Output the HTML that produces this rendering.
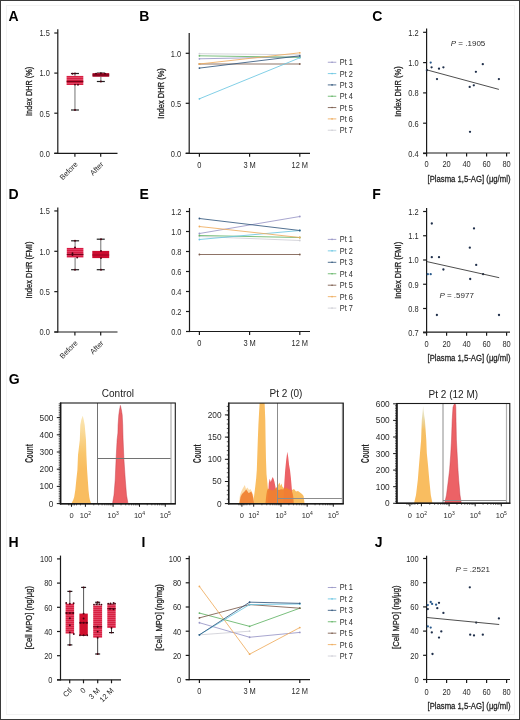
<!DOCTYPE html>
<html><head><meta charset="utf-8"><style>
html,body{margin:0;padding:0;background:#fff;}
svg{display:block;font-family:"Liberation Sans", sans-serif;will-change:transform;}
</style></head><body>
<svg width="520" height="720" viewBox="0 0 520 720">
<rect width="520" height="720" fill="#fff"/>
<rect x="6.5" y="5.5" width="508" height="709" fill="none" stroke="#f3f3f3" stroke-width="1"/>
<rect x="0.5" y="0.5" width="519" height="719" fill="none" stroke="#3a3a3a" stroke-width="1"/>
<text x="8.40" y="20.50" font-size="14" text-anchor="start" fill="#000" font-weight="bold" >A</text>
<line x1="57.80" y1="29.20" x2="57.80" y2="153.90" stroke="#1a1a1a" stroke-width="1.2" />
<line x1="54.30" y1="153.30" x2="57.80" y2="153.30" stroke="#1a1a1a" stroke-width="1.2" />
<text x="49.80" y="156.60" font-size="8.2" text-anchor="end" fill="#2a2a2a" font-weight="normal"  textLength="10.37" lengthAdjust="spacingAndGlyphs">0.0</text>
<line x1="54.30" y1="113.20" x2="57.80" y2="113.20" stroke="#1a1a1a" stroke-width="1.2" />
<text x="49.80" y="116.50" font-size="8.2" text-anchor="end" fill="#2a2a2a" font-weight="normal"  textLength="10.37" lengthAdjust="spacingAndGlyphs">0.5</text>
<line x1="54.30" y1="73.10" x2="57.80" y2="73.10" stroke="#1a1a1a" stroke-width="1.2" />
<text x="49.80" y="76.40" font-size="8.2" text-anchor="end" fill="#2a2a2a" font-weight="normal"  textLength="10.37" lengthAdjust="spacingAndGlyphs">1.0</text>
<line x1="54.30" y1="33.00" x2="57.80" y2="33.00" stroke="#1a1a1a" stroke-width="1.2" />
<text x="49.80" y="36.30" font-size="8.2" text-anchor="end" fill="#2a2a2a" font-weight="normal"  textLength="10.37" lengthAdjust="spacingAndGlyphs">1.5</text>
<line x1="54.30" y1="153.30" x2="117.50" y2="153.30" stroke="#1a1a1a" stroke-width="1.2" />
<line x1="74.90" y1="153.30" x2="74.90" y2="156.80" stroke="#1a1a1a" stroke-width="1.2" />
<line x1="100.70" y1="153.30" x2="100.70" y2="156.80" stroke="#1a1a1a" stroke-width="1.2" />
<text x="78.30" y="164.80" font-size="7.5" text-anchor="end" fill="#2a2a2a" font-weight="normal" transform="rotate(-45 78.30 164.80)" >Before</text>
<text x="104.10" y="164.80" font-size="7.5" text-anchor="end" fill="#2a2a2a" font-weight="normal" transform="rotate(-45 104.10 164.80)" >After</text>
<text x="32.40" y="91.40" font-size="9.5" text-anchor="middle" fill="#222" font-weight="normal" transform="rotate(-90 32.40 91.40)" textLength="49" lengthAdjust="spacingAndGlyphs"  stroke="#222" stroke-width="0.28">Index DHR (%)</text>
<defs><pattern id="st1" width="4" height="2" patternUnits="userSpaceOnUse"><rect width="4" height="2" fill="#d81a42"/><rect y="1.1" width="4" height="0.8" fill="#e6456a"/></pattern><pattern id="st2" width="4" height="2" patternUnits="userSpaceOnUse"><rect width="4" height="2" fill="#d82042"/><rect y="1.1" width="4" height="0.8" fill="#e4506e"/></pattern></defs>
<line x1="74.95" y1="73.50" x2="74.95" y2="75.90" stroke="#8a8a8a" stroke-width="1.2" />
<line x1="74.95" y1="85.00" x2="74.95" y2="110.00" stroke="#8a8a8a" stroke-width="1.2" />
<line x1="70.95" y1="73.50" x2="78.95" y2="73.50" stroke="#222" stroke-width="1.2" />
<line x1="70.95" y1="110.00" x2="78.95" y2="110.00" stroke="#222" stroke-width="1.2" />
<rect x="66.60" y="75.90" width="16.70" height="9.10" fill="url(#st2)" />
<line x1="66.60" y1="81.50" x2="83.30" y2="81.50" stroke="#7a0018" stroke-width="1.3" />
<circle cx="75.00" cy="73.50" r="0.95" fill="#4a0010"/>
<circle cx="72.50" cy="73.70" r="0.95" fill="#4a0010"/>
<circle cx="75.00" cy="84.60" r="0.95" fill="#4a0010"/>
<circle cx="75.00" cy="110.00" r="0.95" fill="#4a0010"/>
<circle cx="78.00" cy="84.80" r="0.95" fill="#4a0010"/>
<line x1="100.85" y1="73.10" x2="100.85" y2="73.10" stroke="#8a8a8a" stroke-width="1.2" />
<line x1="100.85" y1="76.80" x2="100.85" y2="81.50" stroke="#8a8a8a" stroke-width="1.2" />
<line x1="96.85" y1="73.10" x2="104.85" y2="73.10" stroke="#222" stroke-width="1.2" />
<line x1="96.85" y1="81.50" x2="104.85" y2="81.50" stroke="#222" stroke-width="1.2" />
<rect x="92.50" y="73.10" width="16.70" height="3.70" fill="#a8102e" />
<line x1="92.50" y1="75.00" x2="109.20" y2="75.00" stroke="#7a0018" stroke-width="1.3" />
<circle cx="96.00" cy="73.60" r="0.95" fill="#4a0010"/>
<circle cx="100.90" cy="73.30" r="0.95" fill="#4a0010"/>
<circle cx="105.00" cy="73.60" r="0.95" fill="#4a0010"/>
<circle cx="100.90" cy="81.50" r="0.95" fill="#4a0010"/>
<text x="8.40" y="199.00" font-size="14" text-anchor="start" fill="#000" font-weight="bold" >D</text>
<line x1="57.80" y1="207.50" x2="57.80" y2="332.60" stroke="#1a1a1a" stroke-width="1.2" />
<line x1="54.30" y1="332.00" x2="57.80" y2="332.00" stroke="#1a1a1a" stroke-width="1.2" />
<text x="49.80" y="335.30" font-size="8.2" text-anchor="end" fill="#2a2a2a" font-weight="normal"  textLength="10.37" lengthAdjust="spacingAndGlyphs">0.0</text>
<line x1="54.30" y1="291.65" x2="57.80" y2="291.65" stroke="#1a1a1a" stroke-width="1.2" />
<text x="49.80" y="294.95" font-size="8.2" text-anchor="end" fill="#2a2a2a" font-weight="normal"  textLength="10.37" lengthAdjust="spacingAndGlyphs">0.5</text>
<line x1="54.30" y1="251.30" x2="57.80" y2="251.30" stroke="#1a1a1a" stroke-width="1.2" />
<text x="49.80" y="254.60" font-size="8.2" text-anchor="end" fill="#2a2a2a" font-weight="normal"  textLength="10.37" lengthAdjust="spacingAndGlyphs">1.0</text>
<line x1="54.30" y1="210.95" x2="57.80" y2="210.95" stroke="#1a1a1a" stroke-width="1.2" />
<text x="49.80" y="214.25" font-size="8.2" text-anchor="end" fill="#2a2a2a" font-weight="normal"  textLength="10.37" lengthAdjust="spacingAndGlyphs">1.5</text>
<line x1="54.30" y1="332.00" x2="117.50" y2="332.00" stroke="#1a1a1a" stroke-width="1.2" />
<line x1="74.90" y1="332.00" x2="74.90" y2="335.50" stroke="#1a1a1a" stroke-width="1.2" />
<line x1="100.70" y1="332.00" x2="100.70" y2="335.50" stroke="#1a1a1a" stroke-width="1.2" />
<text x="78.30" y="343.50" font-size="7.5" text-anchor="end" fill="#2a2a2a" font-weight="normal" transform="rotate(-45 78.30 343.50)" >Before</text>
<text x="104.10" y="343.50" font-size="7.5" text-anchor="end" fill="#2a2a2a" font-weight="normal" transform="rotate(-45 104.10 343.50)" >After</text>
<text x="32.40" y="270.00" font-size="9.5" text-anchor="middle" fill="#222" font-weight="normal" transform="rotate(-90 32.40 270.00)" textLength="57" lengthAdjust="spacingAndGlyphs"  stroke="#222" stroke-width="0.28">Index DHR (FMI)</text>
<line x1="75.10" y1="240.80" x2="75.10" y2="247.90" stroke="#8a8a8a" stroke-width="1.2" />
<line x1="75.10" y1="257.50" x2="75.10" y2="269.70" stroke="#8a8a8a" stroke-width="1.2" />
<line x1="71.10" y1="240.80" x2="79.10" y2="240.80" stroke="#222" stroke-width="1.2" />
<line x1="71.10" y1="269.70" x2="79.10" y2="269.70" stroke="#222" stroke-width="1.2" />
<rect x="66.80" y="247.90" width="16.60" height="9.60" fill="url(#st1)" />
<line x1="66.80" y1="254.50" x2="83.40" y2="254.50" stroke="#7a0018" stroke-width="1.3" />
<circle cx="75.00" cy="240.80" r="0.95" fill="#4a0010"/>
<circle cx="75.00" cy="247.40" r="0.95" fill="#4a0010"/>
<circle cx="72.50" cy="253.30" r="0.95" fill="#4a0010"/>
<circle cx="72.50" cy="255.00" r="0.95" fill="#4a0010"/>
<circle cx="77.20" cy="257.60" r="0.95" fill="#4a0010"/>
<circle cx="75.00" cy="269.70" r="0.95" fill="#4a0010"/>
<line x1="100.75" y1="239.20" x2="100.75" y2="250.90" stroke="#8a8a8a" stroke-width="1.2" />
<line x1="100.75" y1="258.10" x2="100.75" y2="269.70" stroke="#8a8a8a" stroke-width="1.2" />
<line x1="96.75" y1="239.20" x2="104.75" y2="239.20" stroke="#222" stroke-width="1.2" />
<line x1="96.75" y1="269.70" x2="104.75" y2="269.70" stroke="#222" stroke-width="1.2" />
<rect x="92.30" y="250.90" width="16.90" height="7.20" fill="#cc0c30" />
<line x1="92.30" y1="255.00" x2="109.20" y2="255.00" stroke="#9a0020" stroke-width="1.0" />
<circle cx="101.00" cy="239.20" r="0.95" fill="#4a0010"/>
<circle cx="101.00" cy="250.90" r="0.95" fill="#4a0010"/>
<circle cx="101.00" cy="258.10" r="0.95" fill="#4a0010"/>
<circle cx="101.00" cy="269.70" r="0.95" fill="#4a0010"/>
<text x="139.20" y="20.50" font-size="14" text-anchor="start" fill="#000" font-weight="bold" >B</text>
<line x1="189.20" y1="33.00" x2="189.20" y2="153.90" stroke="#1a1a1a" stroke-width="1.2" />
<line x1="185.70" y1="153.30" x2="189.20" y2="153.30" stroke="#1a1a1a" stroke-width="1.2" />
<text x="181.20" y="156.60" font-size="8.2" text-anchor="end" fill="#2a2a2a" font-weight="normal"  textLength="10.37" lengthAdjust="spacingAndGlyphs">0.0</text>
<line x1="185.70" y1="103.30" x2="189.20" y2="103.30" stroke="#1a1a1a" stroke-width="1.2" />
<text x="181.20" y="106.60" font-size="8.2" text-anchor="end" fill="#2a2a2a" font-weight="normal"  textLength="10.37" lengthAdjust="spacingAndGlyphs">0.5</text>
<line x1="185.70" y1="53.30" x2="189.20" y2="53.30" stroke="#1a1a1a" stroke-width="1.2" />
<text x="181.20" y="56.60" font-size="8.2" text-anchor="end" fill="#2a2a2a" font-weight="normal"  textLength="10.37" lengthAdjust="spacingAndGlyphs">1.0</text>
<line x1="185.70" y1="153.30" x2="310.00" y2="153.30" stroke="#1a1a1a" stroke-width="1.2" />
<line x1="199.40" y1="153.30" x2="199.40" y2="156.80" stroke="#1a1a1a" stroke-width="1.2" />
<text x="199.40" y="168.00" font-size="8.2" text-anchor="middle" fill="#2a2a2a" font-weight="normal"  textLength="4.15" lengthAdjust="spacingAndGlyphs">0</text>
<line x1="249.60" y1="153.30" x2="249.60" y2="156.80" stroke="#1a1a1a" stroke-width="1.2" />
<text x="249.60" y="168.00" font-size="8.2" text-anchor="middle" fill="#2a2a2a" font-weight="normal"  textLength="12.44" lengthAdjust="spacingAndGlyphs">3 M</text>
<line x1="299.80" y1="153.30" x2="299.80" y2="156.80" stroke="#1a1a1a" stroke-width="1.2" />
<text x="299.80" y="168.00" font-size="8.2" text-anchor="middle" fill="#2a2a2a" font-weight="normal"  textLength="16.59" lengthAdjust="spacingAndGlyphs">12 M</text>
<text x="163.60" y="93.40" font-size="9.5" text-anchor="middle" fill="#222" font-weight="normal" transform="rotate(-90 163.60 93.40)" textLength="50.5" lengthAdjust="spacingAndGlyphs"  stroke="#222" stroke-width="0.28">Index DHR (%)</text>
<line x1="199.40" y1="53.70" x2="299.80" y2="54.80" stroke="#cfcfd6" stroke-width="0.85" />
<circle cx="199.40" cy="53.70" r="0.9" fill="#cfcfd6"/>
<circle cx="299.80" cy="54.80" r="0.9" fill="#cfcfd6"/>
<line x1="199.40" y1="58.80" x2="299.80" y2="56.80" stroke="#9896c6" stroke-width="0.85" />
<circle cx="199.40" cy="58.80" r="0.9" fill="#9896c6"/>
<circle cx="299.80" cy="56.80" r="0.9" fill="#9896c6"/>
<line x1="199.40" y1="55.80" x2="299.80" y2="57.30" stroke="#62b466" stroke-width="0.85" />
<circle cx="199.40" cy="55.80" r="0.9" fill="#62b466"/>
<circle cx="299.80" cy="57.30" r="0.9" fill="#62b466"/>
<line x1="199.40" y1="64.00" x2="299.80" y2="64.00" stroke="#7a5a4a" stroke-width="0.85" />
<circle cx="199.40" cy="64.00" r="0.9" fill="#7a5a4a"/>
<circle cx="299.80" cy="64.00" r="0.9" fill="#7a5a4a"/>
<line x1="199.40" y1="64.00" x2="299.80" y2="52.80" stroke="#eeac5e" stroke-width="0.85" />
<circle cx="199.40" cy="64.00" r="0.9" fill="#eeac5e"/>
<circle cx="299.80" cy="52.80" r="0.9" fill="#eeac5e"/>
<line x1="199.40" y1="68.10" x2="299.80" y2="55.80" stroke="#34587e" stroke-width="0.85" />
<circle cx="199.40" cy="68.10" r="0.9" fill="#34587e"/>
<circle cx="299.80" cy="55.80" r="0.9" fill="#34587e"/>
<line x1="199.40" y1="98.80" x2="299.80" y2="57.80" stroke="#6cc6e2" stroke-width="0.85" />
<circle cx="199.40" cy="98.80" r="0.9" fill="#6cc6e2"/>
<circle cx="299.80" cy="57.80" r="0.9" fill="#6cc6e2"/>
<line x1="327.80" y1="62.25" x2="336.30" y2="62.25" stroke="#9896c6" stroke-width="0.85" />
<circle cx="332.05" cy="62.25" r="0.8" fill="#9896c6"/>
<text x="339.80" y="65.20" font-size="8.2" text-anchor="start" fill="#2a2a2a" font-weight="normal"  textLength="13.13" lengthAdjust="spacingAndGlyphs">Pt 1</text>
<line x1="327.80" y1="73.58" x2="336.30" y2="73.58" stroke="#6cc6e2" stroke-width="0.85" />
<circle cx="332.05" cy="73.58" r="0.8" fill="#6cc6e2"/>
<text x="339.80" y="76.53" font-size="8.2" text-anchor="start" fill="#2a2a2a" font-weight="normal"  textLength="13.13" lengthAdjust="spacingAndGlyphs">Pt 2</text>
<line x1="327.80" y1="84.91" x2="336.30" y2="84.91" stroke="#34587e" stroke-width="0.85" />
<circle cx="332.05" cy="84.91" r="0.8" fill="#34587e"/>
<text x="339.80" y="87.86" font-size="8.2" text-anchor="start" fill="#2a2a2a" font-weight="normal"  textLength="13.13" lengthAdjust="spacingAndGlyphs">Pt 3</text>
<line x1="327.80" y1="96.24" x2="336.30" y2="96.24" stroke="#62b466" stroke-width="0.85" />
<circle cx="332.05" cy="96.24" r="0.8" fill="#62b466"/>
<text x="339.80" y="99.19" font-size="8.2" text-anchor="start" fill="#2a2a2a" font-weight="normal"  textLength="13.13" lengthAdjust="spacingAndGlyphs">Pt 4</text>
<line x1="327.80" y1="107.57" x2="336.30" y2="107.57" stroke="#7a5a4a" stroke-width="0.85" />
<circle cx="332.05" cy="107.57" r="0.8" fill="#7a5a4a"/>
<text x="339.80" y="110.52" font-size="8.2" text-anchor="start" fill="#2a2a2a" font-weight="normal"  textLength="13.13" lengthAdjust="spacingAndGlyphs">Pt 5</text>
<line x1="327.80" y1="118.90" x2="336.30" y2="118.90" stroke="#eeac5e" stroke-width="0.85" />
<circle cx="332.05" cy="118.90" r="0.8" fill="#eeac5e"/>
<text x="339.80" y="121.85" font-size="8.2" text-anchor="start" fill="#2a2a2a" font-weight="normal"  textLength="13.13" lengthAdjust="spacingAndGlyphs">Pt 6</text>
<line x1="327.80" y1="130.23" x2="336.30" y2="130.23" stroke="#cfcfd6" stroke-width="0.85" />
<circle cx="332.05" cy="130.23" r="0.8" fill="#cfcfd6"/>
<text x="339.80" y="133.18" font-size="8.2" text-anchor="start" fill="#2a2a2a" font-weight="normal"  textLength="13.13" lengthAdjust="spacingAndGlyphs">Pt 7</text>
<text x="139.40" y="199.00" font-size="14" text-anchor="start" fill="#000" font-weight="bold" >E</text>
<line x1="189.50" y1="208.00" x2="189.50" y2="332.10" stroke="#1a1a1a" stroke-width="1.2" />
<line x1="186.00" y1="331.50" x2="189.50" y2="331.50" stroke="#1a1a1a" stroke-width="1.2" />
<text x="181.50" y="334.80" font-size="8.2" text-anchor="end" fill="#2a2a2a" font-weight="normal"  textLength="10.37" lengthAdjust="spacingAndGlyphs">0.0</text>
<line x1="186.00" y1="311.50" x2="189.50" y2="311.50" stroke="#1a1a1a" stroke-width="1.2" />
<text x="181.50" y="314.80" font-size="8.2" text-anchor="end" fill="#2a2a2a" font-weight="normal"  textLength="10.37" lengthAdjust="spacingAndGlyphs">0.2</text>
<line x1="186.00" y1="291.50" x2="189.50" y2="291.50" stroke="#1a1a1a" stroke-width="1.2" />
<text x="181.50" y="294.80" font-size="8.2" text-anchor="end" fill="#2a2a2a" font-weight="normal"  textLength="10.37" lengthAdjust="spacingAndGlyphs">0.4</text>
<line x1="186.00" y1="271.50" x2="189.50" y2="271.50" stroke="#1a1a1a" stroke-width="1.2" />
<text x="181.50" y="274.80" font-size="8.2" text-anchor="end" fill="#2a2a2a" font-weight="normal"  textLength="10.37" lengthAdjust="spacingAndGlyphs">0.6</text>
<line x1="186.00" y1="251.50" x2="189.50" y2="251.50" stroke="#1a1a1a" stroke-width="1.2" />
<text x="181.50" y="254.80" font-size="8.2" text-anchor="end" fill="#2a2a2a" font-weight="normal"  textLength="10.37" lengthAdjust="spacingAndGlyphs">0.8</text>
<line x1="186.00" y1="231.50" x2="189.50" y2="231.50" stroke="#1a1a1a" stroke-width="1.2" />
<text x="181.50" y="234.80" font-size="8.2" text-anchor="end" fill="#2a2a2a" font-weight="normal"  textLength="10.37" lengthAdjust="spacingAndGlyphs">1.0</text>
<line x1="186.00" y1="211.50" x2="189.50" y2="211.50" stroke="#1a1a1a" stroke-width="1.2" />
<text x="181.50" y="214.80" font-size="8.2" text-anchor="end" fill="#2a2a2a" font-weight="normal"  textLength="10.37" lengthAdjust="spacingAndGlyphs">1.2</text>
<line x1="186.00" y1="331.50" x2="310.00" y2="331.50" stroke="#1a1a1a" stroke-width="1.2" />
<line x1="199.40" y1="331.50" x2="199.40" y2="335.00" stroke="#1a1a1a" stroke-width="1.2" />
<text x="199.40" y="346.20" font-size="8.2" text-anchor="middle" fill="#2a2a2a" font-weight="normal"  textLength="4.15" lengthAdjust="spacingAndGlyphs">0</text>
<line x1="249.60" y1="331.50" x2="249.60" y2="335.00" stroke="#1a1a1a" stroke-width="1.2" />
<text x="249.60" y="346.20" font-size="8.2" text-anchor="middle" fill="#2a2a2a" font-weight="normal"  textLength="12.44" lengthAdjust="spacingAndGlyphs">3 M</text>
<line x1="299.80" y1="331.50" x2="299.80" y2="335.00" stroke="#1a1a1a" stroke-width="1.2" />
<text x="299.80" y="346.20" font-size="8.2" text-anchor="middle" fill="#2a2a2a" font-weight="normal"  textLength="16.59" lengthAdjust="spacingAndGlyphs">12 M</text>
<text x="163.60" y="270.00" font-size="9.5" text-anchor="start" fill="#2a2a2a" font-weight="normal" ></text>
<line x1="199.40" y1="236.50" x2="299.80" y2="240.50" stroke="#cfcfd6" stroke-width="0.85" />
<circle cx="199.40" cy="236.50" r="0.9" fill="#cfcfd6"/>
<circle cx="299.80" cy="240.50" r="0.9" fill="#cfcfd6"/>
<line x1="199.40" y1="254.50" x2="299.80" y2="254.50" stroke="#7a5a4a" stroke-width="0.85" />
<circle cx="199.40" cy="254.50" r="0.9" fill="#7a5a4a"/>
<circle cx="299.80" cy="254.50" r="0.9" fill="#7a5a4a"/>
<line x1="199.40" y1="235.50" x2="299.80" y2="237.50" stroke="#62b466" stroke-width="0.85" />
<circle cx="199.40" cy="235.50" r="0.9" fill="#62b466"/>
<circle cx="299.80" cy="237.50" r="0.9" fill="#62b466"/>
<line x1="199.40" y1="239.50" x2="299.80" y2="230.50" stroke="#6cc6e2" stroke-width="0.85" />
<circle cx="199.40" cy="239.50" r="0.9" fill="#6cc6e2"/>
<circle cx="299.80" cy="230.50" r="0.9" fill="#6cc6e2"/>
<line x1="199.40" y1="233.50" x2="299.80" y2="216.50" stroke="#9896c6" stroke-width="0.85" />
<circle cx="199.40" cy="233.50" r="0.9" fill="#9896c6"/>
<circle cx="299.80" cy="216.50" r="0.9" fill="#9896c6"/>
<line x1="199.40" y1="226.50" x2="299.80" y2="237.50" stroke="#eeac5e" stroke-width="0.85" />
<circle cx="199.40" cy="226.50" r="0.9" fill="#eeac5e"/>
<circle cx="299.80" cy="237.50" r="0.9" fill="#eeac5e"/>
<line x1="199.40" y1="218.50" x2="299.80" y2="230.50" stroke="#34587e" stroke-width="0.85" />
<circle cx="199.40" cy="218.50" r="0.9" fill="#34587e"/>
<circle cx="299.80" cy="230.50" r="0.9" fill="#34587e"/>
<line x1="327.80" y1="239.40" x2="336.30" y2="239.40" stroke="#9896c6" stroke-width="0.85" />
<circle cx="332.05" cy="239.40" r="0.8" fill="#9896c6"/>
<text x="339.80" y="242.35" font-size="8.2" text-anchor="start" fill="#2a2a2a" font-weight="normal"  textLength="13.13" lengthAdjust="spacingAndGlyphs">Pt 1</text>
<line x1="327.80" y1="250.85" x2="336.30" y2="250.85" stroke="#6cc6e2" stroke-width="0.85" />
<circle cx="332.05" cy="250.85" r="0.8" fill="#6cc6e2"/>
<text x="339.80" y="253.80" font-size="8.2" text-anchor="start" fill="#2a2a2a" font-weight="normal"  textLength="13.13" lengthAdjust="spacingAndGlyphs">Pt 2</text>
<line x1="327.80" y1="262.30" x2="336.30" y2="262.30" stroke="#34587e" stroke-width="0.85" />
<circle cx="332.05" cy="262.30" r="0.8" fill="#34587e"/>
<text x="339.80" y="265.25" font-size="8.2" text-anchor="start" fill="#2a2a2a" font-weight="normal"  textLength="13.13" lengthAdjust="spacingAndGlyphs">Pt 3</text>
<line x1="327.80" y1="273.75" x2="336.30" y2="273.75" stroke="#62b466" stroke-width="0.85" />
<circle cx="332.05" cy="273.75" r="0.8" fill="#62b466"/>
<text x="339.80" y="276.70" font-size="8.2" text-anchor="start" fill="#2a2a2a" font-weight="normal"  textLength="13.13" lengthAdjust="spacingAndGlyphs">Pt 4</text>
<line x1="327.80" y1="285.20" x2="336.30" y2="285.20" stroke="#7a5a4a" stroke-width="0.85" />
<circle cx="332.05" cy="285.20" r="0.8" fill="#7a5a4a"/>
<text x="339.80" y="288.15" font-size="8.2" text-anchor="start" fill="#2a2a2a" font-weight="normal"  textLength="13.13" lengthAdjust="spacingAndGlyphs">Pt 5</text>
<line x1="327.80" y1="296.65" x2="336.30" y2="296.65" stroke="#eeac5e" stroke-width="0.85" />
<circle cx="332.05" cy="296.65" r="0.8" fill="#eeac5e"/>
<text x="339.80" y="299.60" font-size="8.2" text-anchor="start" fill="#2a2a2a" font-weight="normal"  textLength="13.13" lengthAdjust="spacingAndGlyphs">Pt 6</text>
<line x1="327.80" y1="308.10" x2="336.30" y2="308.10" stroke="#cfcfd6" stroke-width="0.85" />
<circle cx="332.05" cy="308.10" r="0.8" fill="#cfcfd6"/>
<text x="339.80" y="311.05" font-size="8.2" text-anchor="start" fill="#2a2a2a" font-weight="normal"  textLength="13.13" lengthAdjust="spacingAndGlyphs">Pt 7</text>
<text x="141.40" y="546.70" font-size="14" text-anchor="start" fill="#000" font-weight="bold" >I</text>
<line x1="189.20" y1="555.80" x2="189.20" y2="680.20" stroke="#1a1a1a" stroke-width="1.2" />
<line x1="185.70" y1="679.60" x2="189.20" y2="679.60" stroke="#1a1a1a" stroke-width="1.2" />
<text x="181.20" y="682.90" font-size="8.2" text-anchor="end" fill="#2a2a2a" font-weight="normal"  textLength="4.15" lengthAdjust="spacingAndGlyphs">0</text>
<line x1="185.70" y1="655.40" x2="189.20" y2="655.40" stroke="#1a1a1a" stroke-width="1.2" />
<text x="181.20" y="658.70" font-size="8.2" text-anchor="end" fill="#2a2a2a" font-weight="normal"  textLength="8.30" lengthAdjust="spacingAndGlyphs">20</text>
<line x1="185.70" y1="631.20" x2="189.20" y2="631.20" stroke="#1a1a1a" stroke-width="1.2" />
<text x="181.20" y="634.50" font-size="8.2" text-anchor="end" fill="#2a2a2a" font-weight="normal"  textLength="8.30" lengthAdjust="spacingAndGlyphs">40</text>
<line x1="185.70" y1="607.00" x2="189.20" y2="607.00" stroke="#1a1a1a" stroke-width="1.2" />
<text x="181.20" y="610.30" font-size="8.2" text-anchor="end" fill="#2a2a2a" font-weight="normal"  textLength="8.30" lengthAdjust="spacingAndGlyphs">60</text>
<line x1="185.70" y1="582.80" x2="189.20" y2="582.80" stroke="#1a1a1a" stroke-width="1.2" />
<text x="181.20" y="586.10" font-size="8.2" text-anchor="end" fill="#2a2a2a" font-weight="normal"  textLength="8.30" lengthAdjust="spacingAndGlyphs">80</text>
<line x1="185.70" y1="558.60" x2="189.20" y2="558.60" stroke="#1a1a1a" stroke-width="1.2" />
<text x="181.20" y="561.90" font-size="8.2" text-anchor="end" fill="#2a2a2a" font-weight="normal"  textLength="12.45" lengthAdjust="spacingAndGlyphs">100</text>
<line x1="185.70" y1="679.60" x2="310.00" y2="679.60" stroke="#1a1a1a" stroke-width="1.2" />
<line x1="199.40" y1="679.60" x2="199.40" y2="683.10" stroke="#1a1a1a" stroke-width="1.2" />
<text x="199.40" y="694.30" font-size="8.2" text-anchor="middle" fill="#2a2a2a" font-weight="normal"  textLength="4.15" lengthAdjust="spacingAndGlyphs">0</text>
<line x1="249.60" y1="679.60" x2="249.60" y2="683.10" stroke="#1a1a1a" stroke-width="1.2" />
<text x="249.60" y="694.30" font-size="8.2" text-anchor="middle" fill="#2a2a2a" font-weight="normal"  textLength="12.44" lengthAdjust="spacingAndGlyphs">3 M</text>
<line x1="299.80" y1="679.60" x2="299.80" y2="683.10" stroke="#1a1a1a" stroke-width="1.2" />
<text x="299.80" y="694.30" font-size="8.2" text-anchor="middle" fill="#2a2a2a" font-weight="normal"  textLength="16.59" lengthAdjust="spacingAndGlyphs">12 M</text>
<text x="161.60" y="617.50" font-size="9.5" text-anchor="middle" fill="#222" font-weight="normal" transform="rotate(-90 161.60 617.50)" textLength="66.5" lengthAdjust="spacingAndGlyphs"  stroke="#222" stroke-width="0.28">[Cell. MPO] (ng/mg)</text>
<polyline points="199.40,634.83 249.60,631.20" fill="none" stroke="#cfcfd6" stroke-width="0.85" />
<circle cx="199.40" cy="634.83" r="0.9" fill="#cfcfd6"/>
<circle cx="249.60" cy="631.20" r="0.9" fill="#cfcfd6"/>
<polyline points="199.40,622.73 249.60,637.25 299.80,632.41" fill="none" stroke="#9896c6" stroke-width="0.85" />
<circle cx="199.40" cy="622.73" r="0.9" fill="#9896c6"/>
<circle cx="249.60" cy="637.25" r="0.9" fill="#9896c6"/>
<circle cx="299.80" cy="632.41" r="0.9" fill="#9896c6"/>
<polyline points="199.40,613.05 249.60,626.36 299.80,608.21" fill="none" stroke="#62b466" stroke-width="0.85" />
<circle cx="199.40" cy="613.05" r="0.9" fill="#62b466"/>
<circle cx="249.60" cy="626.36" r="0.9" fill="#62b466"/>
<circle cx="299.80" cy="608.21" r="0.9" fill="#62b466"/>
<polyline points="199.40,617.89 249.60,604.58 299.80,608.21" fill="none" stroke="#7a5a4a" stroke-width="0.85" />
<circle cx="199.40" cy="617.89" r="0.9" fill="#7a5a4a"/>
<circle cx="249.60" cy="604.58" r="0.9" fill="#7a5a4a"/>
<circle cx="299.80" cy="608.21" r="0.9" fill="#7a5a4a"/>
<polyline points="199.40,586.43 249.60,654.19 299.80,627.57" fill="none" stroke="#eeac5e" stroke-width="0.85" />
<circle cx="199.40" cy="586.43" r="0.9" fill="#eeac5e"/>
<circle cx="249.60" cy="654.19" r="0.9" fill="#eeac5e"/>
<circle cx="299.80" cy="627.57" r="0.9" fill="#eeac5e"/>
<polyline points="199.40,634.83 249.60,604.58 299.80,603.98" fill="none" stroke="#6cc6e2" stroke-width="0.85" />
<circle cx="199.40" cy="634.83" r="0.9" fill="#6cc6e2"/>
<circle cx="249.60" cy="604.58" r="0.9" fill="#6cc6e2"/>
<circle cx="299.80" cy="603.98" r="0.9" fill="#6cc6e2"/>
<polyline points="199.40,634.83 249.60,602.16 299.80,603.37" fill="none" stroke="#34587e" stroke-width="0.85" />
<circle cx="199.40" cy="634.83" r="0.9" fill="#34587e"/>
<circle cx="249.60" cy="602.16" r="0.9" fill="#34587e"/>
<circle cx="299.80" cy="603.37" r="0.9" fill="#34587e"/>
<line x1="327.80" y1="587.50" x2="336.30" y2="587.50" stroke="#9896c6" stroke-width="0.85" />
<circle cx="332.05" cy="587.50" r="0.8" fill="#9896c6"/>
<text x="339.80" y="590.45" font-size="8.2" text-anchor="start" fill="#2a2a2a" font-weight="normal"  textLength="13.13" lengthAdjust="spacingAndGlyphs">Pt 1</text>
<line x1="327.80" y1="598.92" x2="336.30" y2="598.92" stroke="#6cc6e2" stroke-width="0.85" />
<circle cx="332.05" cy="598.92" r="0.8" fill="#6cc6e2"/>
<text x="339.80" y="601.87" font-size="8.2" text-anchor="start" fill="#2a2a2a" font-weight="normal"  textLength="13.13" lengthAdjust="spacingAndGlyphs">Pt 2</text>
<line x1="327.80" y1="610.34" x2="336.30" y2="610.34" stroke="#34587e" stroke-width="0.85" />
<circle cx="332.05" cy="610.34" r="0.8" fill="#34587e"/>
<text x="339.80" y="613.29" font-size="8.2" text-anchor="start" fill="#2a2a2a" font-weight="normal"  textLength="13.13" lengthAdjust="spacingAndGlyphs">Pt 3</text>
<line x1="327.80" y1="621.76" x2="336.30" y2="621.76" stroke="#62b466" stroke-width="0.85" />
<circle cx="332.05" cy="621.76" r="0.8" fill="#62b466"/>
<text x="339.80" y="624.71" font-size="8.2" text-anchor="start" fill="#2a2a2a" font-weight="normal"  textLength="13.13" lengthAdjust="spacingAndGlyphs">Pt 4</text>
<line x1="327.80" y1="633.18" x2="336.30" y2="633.18" stroke="#7a5a4a" stroke-width="0.85" />
<circle cx="332.05" cy="633.18" r="0.8" fill="#7a5a4a"/>
<text x="339.80" y="636.13" font-size="8.2" text-anchor="start" fill="#2a2a2a" font-weight="normal"  textLength="13.13" lengthAdjust="spacingAndGlyphs">Pt 5</text>
<line x1="327.80" y1="644.60" x2="336.30" y2="644.60" stroke="#eeac5e" stroke-width="0.85" />
<circle cx="332.05" cy="644.60" r="0.8" fill="#eeac5e"/>
<text x="339.80" y="647.55" font-size="8.2" text-anchor="start" fill="#2a2a2a" font-weight="normal"  textLength="13.13" lengthAdjust="spacingAndGlyphs">Pt 6</text>
<line x1="327.80" y1="656.02" x2="336.30" y2="656.02" stroke="#cfcfd6" stroke-width="0.85" />
<circle cx="332.05" cy="656.02" r="0.8" fill="#cfcfd6"/>
<text x="339.80" y="658.97" font-size="8.2" text-anchor="start" fill="#2a2a2a" font-weight="normal"  textLength="13.13" lengthAdjust="spacingAndGlyphs">Pt 7</text>
<text x="372.30" y="20.90" font-size="14" text-anchor="start" fill="#000" font-weight="bold" >C</text>
<line x1="426.60" y1="28.50" x2="426.60" y2="153.60" stroke="#1a1a1a" stroke-width="1.2" />
<line x1="423.10" y1="153.50" x2="426.60" y2="153.50" stroke="#1a1a1a" stroke-width="1.2" />
<text x="418.60" y="156.80" font-size="8.2" text-anchor="end" fill="#2a2a2a" font-weight="normal"  textLength="10.37" lengthAdjust="spacingAndGlyphs">0.4</text>
<line x1="423.10" y1="123.20" x2="426.60" y2="123.20" stroke="#1a1a1a" stroke-width="1.2" />
<text x="418.60" y="126.50" font-size="8.2" text-anchor="end" fill="#2a2a2a" font-weight="normal"  textLength="10.37" lengthAdjust="spacingAndGlyphs">0.6</text>
<line x1="423.10" y1="92.90" x2="426.60" y2="92.90" stroke="#1a1a1a" stroke-width="1.2" />
<text x="418.60" y="96.20" font-size="8.2" text-anchor="end" fill="#2a2a2a" font-weight="normal"  textLength="10.37" lengthAdjust="spacingAndGlyphs">0.8</text>
<line x1="423.10" y1="62.60" x2="426.60" y2="62.60" stroke="#1a1a1a" stroke-width="1.2" />
<text x="418.60" y="65.90" font-size="8.2" text-anchor="end" fill="#2a2a2a" font-weight="normal"  textLength="10.37" lengthAdjust="spacingAndGlyphs">1.0</text>
<line x1="423.10" y1="32.30" x2="426.60" y2="32.30" stroke="#1a1a1a" stroke-width="1.2" />
<text x="418.60" y="35.60" font-size="8.2" text-anchor="end" fill="#2a2a2a" font-weight="normal"  textLength="10.37" lengthAdjust="spacingAndGlyphs">1.2</text>
<line x1="423.00" y1="153.00" x2="510.00" y2="153.00" stroke="#1a1a1a" stroke-width="1.2" />
<line x1="426.60" y1="153.00" x2="426.60" y2="156.50" stroke="#1a1a1a" stroke-width="1.2" />
<text x="426.60" y="167.40" font-size="8.2" text-anchor="middle" fill="#2a2a2a" font-weight="normal"  textLength="4.15" lengthAdjust="spacingAndGlyphs">0</text>
<line x1="446.60" y1="153.00" x2="446.60" y2="156.50" stroke="#1a1a1a" stroke-width="1.2" />
<text x="446.60" y="167.40" font-size="8.2" text-anchor="middle" fill="#2a2a2a" font-weight="normal"  textLength="8.30" lengthAdjust="spacingAndGlyphs">20</text>
<line x1="466.60" y1="153.00" x2="466.60" y2="156.50" stroke="#1a1a1a" stroke-width="1.2" />
<text x="466.60" y="167.40" font-size="8.2" text-anchor="middle" fill="#2a2a2a" font-weight="normal"  textLength="8.30" lengthAdjust="spacingAndGlyphs">40</text>
<line x1="486.60" y1="153.00" x2="486.60" y2="156.50" stroke="#1a1a1a" stroke-width="1.2" />
<text x="486.60" y="167.40" font-size="8.2" text-anchor="middle" fill="#2a2a2a" font-weight="normal"  textLength="8.30" lengthAdjust="spacingAndGlyphs">60</text>
<line x1="506.60" y1="153.00" x2="506.60" y2="156.50" stroke="#1a1a1a" stroke-width="1.2" />
<text x="506.60" y="167.40" font-size="8.2" text-anchor="middle" fill="#2a2a2a" font-weight="normal"  textLength="8.30" lengthAdjust="spacingAndGlyphs">80</text>
<text x="469.00" y="181.50" font-size="9.5" text-anchor="middle" fill="#222" font-weight="normal" textLength="83" lengthAdjust="spacingAndGlyphs"  stroke="#222" stroke-width="0.28">[Plasma 1,5-AG] (μg/ml)</text>
<text x="401.30" y="91.60" font-size="9.5" text-anchor="middle" fill="#222" font-weight="normal" transform="rotate(-90 401.30 91.60)" textLength="50.5" lengthAdjust="spacingAndGlyphs"  stroke="#222" stroke-width="0.28">Index DHR (%)</text>
<circle cx="430.70" cy="62.60" r="1.15" fill="#2a5a8c"/>
<circle cx="431.60" cy="67.30" r="1.15" fill="#1f2f4a"/>
<circle cx="426.90" cy="70.20" r="1.15" fill="#1f2f4a"/>
<circle cx="437.00" cy="79.10" r="1.15" fill="#1f2f4a"/>
<circle cx="439.00" cy="68.70" r="1.15" fill="#1f2f4a"/>
<circle cx="443.40" cy="67.30" r="1.15" fill="#1f2f4a"/>
<circle cx="469.70" cy="86.90" r="1.15" fill="#1f2f4a"/>
<circle cx="473.80" cy="85.30" r="1.15" fill="#1f2f4a"/>
<circle cx="475.90" cy="71.80" r="1.15" fill="#1f2f4a"/>
<circle cx="482.80" cy="64.20" r="1.15" fill="#1f2f4a"/>
<circle cx="498.90" cy="79.10" r="1.15" fill="#1f2f4a"/>
<circle cx="470.00" cy="131.80" r="1.15" fill="#1f2f4a"/>
<line x1="426.90" y1="69.90" x2="498.90" y2="89.40" stroke="#3a3a3a" stroke-width="0.9" />
<text x="450.80" y="45.80" font-size="8" text-anchor="start" fill="#2a2a2a" font-weight="normal" ><tspan font-style="italic">P</tspan> = .1905</text>
<text x="372.30" y="199.00" font-size="14" text-anchor="start" fill="#000" font-weight="bold" >F</text>
<line x1="426.60" y1="208.10" x2="426.60" y2="332.80" stroke="#1a1a1a" stroke-width="1.2" />
<line x1="423.10" y1="332.75" x2="426.60" y2="332.75" stroke="#1a1a1a" stroke-width="1.2" />
<text x="418.60" y="336.05" font-size="8.2" text-anchor="end" fill="#2a2a2a" font-weight="normal"  textLength="10.37" lengthAdjust="spacingAndGlyphs">0.7</text>
<line x1="423.10" y1="308.50" x2="426.60" y2="308.50" stroke="#1a1a1a" stroke-width="1.2" />
<text x="418.60" y="311.80" font-size="8.2" text-anchor="end" fill="#2a2a2a" font-weight="normal"  textLength="10.37" lengthAdjust="spacingAndGlyphs">0.8</text>
<line x1="423.10" y1="284.25" x2="426.60" y2="284.25" stroke="#1a1a1a" stroke-width="1.2" />
<text x="418.60" y="287.55" font-size="8.2" text-anchor="end" fill="#2a2a2a" font-weight="normal"  textLength="10.37" lengthAdjust="spacingAndGlyphs">0.9</text>
<line x1="423.10" y1="260.00" x2="426.60" y2="260.00" stroke="#1a1a1a" stroke-width="1.2" />
<text x="418.60" y="263.30" font-size="8.2" text-anchor="end" fill="#2a2a2a" font-weight="normal"  textLength="10.37" lengthAdjust="spacingAndGlyphs">1.0</text>
<line x1="423.10" y1="235.75" x2="426.60" y2="235.75" stroke="#1a1a1a" stroke-width="1.2" />
<text x="418.60" y="239.05" font-size="8.2" text-anchor="end" fill="#2a2a2a" font-weight="normal"  textLength="10.37" lengthAdjust="spacingAndGlyphs">1.1</text>
<line x1="423.10" y1="211.50" x2="426.60" y2="211.50" stroke="#1a1a1a" stroke-width="1.2" />
<text x="418.60" y="214.80" font-size="8.2" text-anchor="end" fill="#2a2a2a" font-weight="normal"  textLength="10.37" lengthAdjust="spacingAndGlyphs">1.2</text>
<line x1="423.00" y1="332.20" x2="510.00" y2="332.20" stroke="#1a1a1a" stroke-width="1.2" />
<line x1="426.60" y1="332.20" x2="426.60" y2="335.70" stroke="#1a1a1a" stroke-width="1.2" />
<text x="426.60" y="346.60" font-size="8.2" text-anchor="middle" fill="#2a2a2a" font-weight="normal"  textLength="4.15" lengthAdjust="spacingAndGlyphs">0</text>
<line x1="446.60" y1="332.20" x2="446.60" y2="335.70" stroke="#1a1a1a" stroke-width="1.2" />
<text x="446.60" y="346.60" font-size="8.2" text-anchor="middle" fill="#2a2a2a" font-weight="normal"  textLength="8.30" lengthAdjust="spacingAndGlyphs">20</text>
<line x1="466.60" y1="332.20" x2="466.60" y2="335.70" stroke="#1a1a1a" stroke-width="1.2" />
<text x="466.60" y="346.60" font-size="8.2" text-anchor="middle" fill="#2a2a2a" font-weight="normal"  textLength="8.30" lengthAdjust="spacingAndGlyphs">40</text>
<line x1="486.60" y1="332.20" x2="486.60" y2="335.70" stroke="#1a1a1a" stroke-width="1.2" />
<text x="486.60" y="346.60" font-size="8.2" text-anchor="middle" fill="#2a2a2a" font-weight="normal"  textLength="8.30" lengthAdjust="spacingAndGlyphs">60</text>
<line x1="506.60" y1="332.20" x2="506.60" y2="335.70" stroke="#1a1a1a" stroke-width="1.2" />
<text x="506.60" y="346.60" font-size="8.2" text-anchor="middle" fill="#2a2a2a" font-weight="normal"  textLength="8.30" lengthAdjust="spacingAndGlyphs">80</text>
<text x="469.00" y="360.70" font-size="9.5" text-anchor="middle" fill="#222" font-weight="normal" textLength="83" lengthAdjust="spacingAndGlyphs"  stroke="#222" stroke-width="0.28">[Plasma 1,5-AG] (μg/ml)</text>
<text x="401.30" y="270.30" font-size="9.5" text-anchor="middle" fill="#222" font-weight="normal" transform="rotate(-90 401.30 270.30)" textLength="57" lengthAdjust="spacingAndGlyphs"  stroke="#222" stroke-width="0.28">Index DHR (FMI)</text>
<circle cx="431.80" cy="223.50" r="1.15" fill="#1f2f4a"/>
<circle cx="474.00" cy="228.40" r="1.15" fill="#1f2f4a"/>
<circle cx="469.80" cy="247.70" r="1.15" fill="#1f2f4a"/>
<circle cx="431.80" cy="257.20" r="1.15" fill="#1f2f4a"/>
<circle cx="439.00" cy="257.20" r="1.15" fill="#1f2f4a"/>
<circle cx="476.20" cy="264.90" r="1.15" fill="#1f2f4a"/>
<circle cx="443.40" cy="269.50" r="1.15" fill="#1f2f4a"/>
<circle cx="427.80" cy="274.20" r="1.15" fill="#2a5a8c"/>
<circle cx="430.70" cy="274.20" r="1.15" fill="#2a5a8c"/>
<circle cx="483.10" cy="274.20" r="1.15" fill="#1f2f4a"/>
<circle cx="470.20" cy="279.00" r="1.15" fill="#1f2f4a"/>
<circle cx="436.90" cy="315.00" r="1.15" fill="#1f2f4a"/>
<circle cx="499.00" cy="315.00" r="1.15" fill="#1f2f4a"/>
<line x1="426.90" y1="261.60" x2="499.20" y2="277.70" stroke="#3a3a3a" stroke-width="0.9" />
<text x="439.40" y="297.80" font-size="8" text-anchor="start" fill="#2a2a2a" font-weight="normal" ><tspan font-style="italic">P</tspan> = .5977</text>
<text x="374.80" y="546.70" font-size="14" text-anchor="start" fill="#000" font-weight="bold" >J</text>
<line x1="426.60" y1="555.80" x2="426.60" y2="680.10" stroke="#1a1a1a" stroke-width="1.2" />
<line x1="423.10" y1="679.50" x2="426.60" y2="679.50" stroke="#1a1a1a" stroke-width="1.2" />
<text x="418.60" y="682.80" font-size="8.2" text-anchor="end" fill="#2a2a2a" font-weight="normal"  textLength="4.15" lengthAdjust="spacingAndGlyphs">0</text>
<line x1="423.10" y1="655.30" x2="426.60" y2="655.30" stroke="#1a1a1a" stroke-width="1.2" />
<text x="418.60" y="658.60" font-size="8.2" text-anchor="end" fill="#2a2a2a" font-weight="normal"  textLength="8.30" lengthAdjust="spacingAndGlyphs">20</text>
<line x1="423.10" y1="631.10" x2="426.60" y2="631.10" stroke="#1a1a1a" stroke-width="1.2" />
<text x="418.60" y="634.40" font-size="8.2" text-anchor="end" fill="#2a2a2a" font-weight="normal"  textLength="8.30" lengthAdjust="spacingAndGlyphs">40</text>
<line x1="423.10" y1="606.90" x2="426.60" y2="606.90" stroke="#1a1a1a" stroke-width="1.2" />
<text x="418.60" y="610.20" font-size="8.2" text-anchor="end" fill="#2a2a2a" font-weight="normal"  textLength="8.30" lengthAdjust="spacingAndGlyphs">60</text>
<line x1="423.10" y1="582.70" x2="426.60" y2="582.70" stroke="#1a1a1a" stroke-width="1.2" />
<text x="418.60" y="586.00" font-size="8.2" text-anchor="end" fill="#2a2a2a" font-weight="normal"  textLength="8.30" lengthAdjust="spacingAndGlyphs">80</text>
<line x1="423.10" y1="558.50" x2="426.60" y2="558.50" stroke="#1a1a1a" stroke-width="1.2" />
<text x="418.60" y="561.80" font-size="8.2" text-anchor="end" fill="#2a2a2a" font-weight="normal"  textLength="12.45" lengthAdjust="spacingAndGlyphs">100</text>
<line x1="423.00" y1="679.50" x2="510.00" y2="679.50" stroke="#1a1a1a" stroke-width="1.2" />
<line x1="426.60" y1="679.50" x2="426.60" y2="683.00" stroke="#1a1a1a" stroke-width="1.2" />
<text x="426.60" y="694.60" font-size="8.2" text-anchor="middle" fill="#2a2a2a" font-weight="normal"  textLength="4.15" lengthAdjust="spacingAndGlyphs">0</text>
<line x1="446.60" y1="679.50" x2="446.60" y2="683.00" stroke="#1a1a1a" stroke-width="1.2" />
<text x="446.60" y="694.60" font-size="8.2" text-anchor="middle" fill="#2a2a2a" font-weight="normal"  textLength="8.30" lengthAdjust="spacingAndGlyphs">20</text>
<line x1="466.60" y1="679.50" x2="466.60" y2="683.00" stroke="#1a1a1a" stroke-width="1.2" />
<text x="466.60" y="694.60" font-size="8.2" text-anchor="middle" fill="#2a2a2a" font-weight="normal"  textLength="8.30" lengthAdjust="spacingAndGlyphs">40</text>
<line x1="486.60" y1="679.50" x2="486.60" y2="683.00" stroke="#1a1a1a" stroke-width="1.2" />
<text x="486.60" y="694.60" font-size="8.2" text-anchor="middle" fill="#2a2a2a" font-weight="normal"  textLength="8.30" lengthAdjust="spacingAndGlyphs">60</text>
<line x1="506.60" y1="679.50" x2="506.60" y2="683.00" stroke="#1a1a1a" stroke-width="1.2" />
<text x="506.60" y="694.60" font-size="8.2" text-anchor="middle" fill="#2a2a2a" font-weight="normal"  textLength="8.30" lengthAdjust="spacingAndGlyphs">80</text>
<text x="469.00" y="708.70" font-size="9.5" text-anchor="middle" fill="#222" font-weight="normal" textLength="83" lengthAdjust="spacingAndGlyphs"  stroke="#222" stroke-width="0.28">[Plasma 1,5-AG] (μg/ml)</text>
<text x="399.30" y="617.20" font-size="9.5" text-anchor="middle" fill="#222" font-weight="normal" transform="rotate(-90 399.30 617.20)" textLength="63.5" lengthAdjust="spacingAndGlyphs"  stroke="#222" stroke-width="0.28">[Cell MPO] (ng/μg)</text>
<circle cx="469.80" cy="587.30" r="1.15" fill="#1f2f4a"/>
<circle cx="430.70" cy="602.00" r="1.15" fill="#2a5a8c"/>
<circle cx="432.10" cy="603.90" r="1.15" fill="#2a5a8c"/>
<circle cx="436.10" cy="604.70" r="1.15" fill="#2a5a8c"/>
<circle cx="439.00" cy="602.80" r="1.15" fill="#1f2f4a"/>
<circle cx="427.80" cy="605.10" r="1.15" fill="#2a5a8c"/>
<circle cx="427.80" cy="609.10" r="1.15" fill="#1f2f4a"/>
<circle cx="437.30" cy="608.20" r="1.15" fill="#1f2f4a"/>
<circle cx="443.40" cy="612.90" r="1.15" fill="#1f2f4a"/>
<circle cx="498.90" cy="618.40" r="1.15" fill="#1f2f4a"/>
<circle cx="476.20" cy="622.60" r="1.15" fill="#1f2f4a"/>
<circle cx="427.80" cy="626.40" r="1.15" fill="#2a5a8c"/>
<circle cx="430.70" cy="627.60" r="1.15" fill="#2a5a8c"/>
<circle cx="431.80" cy="632.40" r="1.15" fill="#1f2f4a"/>
<circle cx="441.30" cy="631.40" r="1.15" fill="#1f2f4a"/>
<circle cx="470.20" cy="634.70" r="1.15" fill="#1f2f4a"/>
<circle cx="474.00" cy="635.40" r="1.15" fill="#1f2f4a"/>
<circle cx="482.80" cy="634.70" r="1.15" fill="#1f2f4a"/>
<circle cx="439.00" cy="637.60" r="1.15" fill="#1f2f4a"/>
<circle cx="432.50" cy="654.00" r="1.15" fill="#1f2f4a"/>
<line x1="426.90" y1="617.50" x2="499.20" y2="624.50" stroke="#3a3a3a" stroke-width="0.9" />
<text x="455.40" y="571.80" font-size="8" text-anchor="start" fill="#2a2a2a" font-weight="normal" ><tspan font-style="italic">P</tspan> = .2521</text>
<text x="8.50" y="546.70" font-size="14" text-anchor="start" fill="#000" font-weight="bold" >H</text>
<line x1="60.50" y1="555.60" x2="60.50" y2="680.40" stroke="#1a1a1a" stroke-width="1.2" />
<line x1="57.00" y1="679.90" x2="60.50" y2="679.90" stroke="#1a1a1a" stroke-width="1.2" />
<text x="52.50" y="683.20" font-size="8.2" text-anchor="end" fill="#2a2a2a" font-weight="normal"  textLength="4.15" lengthAdjust="spacingAndGlyphs">0</text>
<line x1="57.00" y1="655.70" x2="60.50" y2="655.70" stroke="#1a1a1a" stroke-width="1.2" />
<text x="52.50" y="659.00" font-size="8.2" text-anchor="end" fill="#2a2a2a" font-weight="normal"  textLength="8.30" lengthAdjust="spacingAndGlyphs">20</text>
<line x1="57.00" y1="631.50" x2="60.50" y2="631.50" stroke="#1a1a1a" stroke-width="1.2" />
<text x="52.50" y="634.80" font-size="8.2" text-anchor="end" fill="#2a2a2a" font-weight="normal"  textLength="8.30" lengthAdjust="spacingAndGlyphs">40</text>
<line x1="57.00" y1="607.30" x2="60.50" y2="607.30" stroke="#1a1a1a" stroke-width="1.2" />
<text x="52.50" y="610.60" font-size="8.2" text-anchor="end" fill="#2a2a2a" font-weight="normal"  textLength="8.30" lengthAdjust="spacingAndGlyphs">60</text>
<line x1="57.00" y1="583.10" x2="60.50" y2="583.10" stroke="#1a1a1a" stroke-width="1.2" />
<text x="52.50" y="586.40" font-size="8.2" text-anchor="end" fill="#2a2a2a" font-weight="normal"  textLength="8.30" lengthAdjust="spacingAndGlyphs">80</text>
<line x1="57.00" y1="558.90" x2="60.50" y2="558.90" stroke="#1a1a1a" stroke-width="1.2" />
<text x="52.50" y="562.20" font-size="8.2" text-anchor="end" fill="#2a2a2a" font-weight="normal"  textLength="12.45" lengthAdjust="spacingAndGlyphs">100</text>
<line x1="57.00" y1="679.80" x2="121.00" y2="679.80" stroke="#1a1a1a" stroke-width="1.2" />
<line x1="69.70" y1="679.80" x2="69.70" y2="683.30" stroke="#1a1a1a" stroke-width="1.2" />
<text x="72.50" y="690.90" font-size="7.5" text-anchor="end" fill="#2a2a2a" font-weight="normal" transform="rotate(-45 72.50 690.90)" >Ctl</text>
<line x1="83.50" y1="679.80" x2="83.50" y2="683.30" stroke="#1a1a1a" stroke-width="1.2" />
<text x="86.30" y="690.90" font-size="7.5" text-anchor="end" fill="#2a2a2a" font-weight="normal" transform="rotate(-45 86.30 690.90)" >0</text>
<line x1="97.70" y1="679.80" x2="97.70" y2="683.30" stroke="#1a1a1a" stroke-width="1.2" />
<text x="100.50" y="690.90" font-size="7.5" text-anchor="end" fill="#2a2a2a" font-weight="normal" transform="rotate(-45 100.50 690.90)" >3 M</text>
<line x1="111.50" y1="679.80" x2="111.50" y2="683.30" stroke="#1a1a1a" stroke-width="1.2" />
<text x="114.30" y="690.90" font-size="7.5" text-anchor="end" fill="#2a2a2a" font-weight="normal" transform="rotate(-45 114.30 690.90)" >12 M</text>
<text x="32.40" y="617.80" font-size="9.5" text-anchor="middle" fill="#222" font-weight="normal" transform="rotate(-90 32.40 617.80)" textLength="63.5" lengthAdjust="spacingAndGlyphs"  stroke="#222" stroke-width="0.28">[Cell MPO] (ng/μg)</text>
<line x1="69.85" y1="591.40" x2="69.85" y2="603.70" stroke="#555" stroke-width="1.0" />
<line x1="69.85" y1="633.60" x2="69.85" y2="644.90" stroke="#555" stroke-width="1.0" />
<line x1="67.35" y1="591.40" x2="72.35" y2="591.40" stroke="#222" stroke-width="1.2" />
<line x1="67.35" y1="644.90" x2="72.35" y2="644.90" stroke="#222" stroke-width="1.2" />
<rect x="65.60" y="603.70" width="8.50" height="29.90" fill="url(#st2)" />
<line x1="65.60" y1="613.00" x2="74.10" y2="613.00" stroke="#7a0018" stroke-width="1.3" />
<circle cx="66.20" cy="603.00" r="0.95" fill="#4a0010"/>
<circle cx="69.85" cy="603.80" r="0.95" fill="#4a0010"/>
<circle cx="73.60" cy="603.30" r="0.95" fill="#4a0010"/>
<circle cx="69.85" cy="613.00" r="0.95" fill="#4a0010"/>
<circle cx="66.50" cy="613.00" r="0.95" fill="#4a0010"/>
<circle cx="73.20" cy="613.00" r="0.95" fill="#4a0010"/>
<circle cx="69.85" cy="618.20" r="0.95" fill="#4a0010"/>
<circle cx="69.85" cy="625.20" r="0.95" fill="#4a0010"/>
<circle cx="69.85" cy="632.50" r="0.95" fill="#4a0010"/>
<circle cx="73.80" cy="634.00" r="0.95" fill="#4a0010"/>
<circle cx="69.85" cy="644.90" r="0.95" fill="#4a0010"/>
<circle cx="69.85" cy="591.40" r="0.95" fill="#4a0010"/>
<line x1="83.60" y1="587.40" x2="83.60" y2="613.60" stroke="#555" stroke-width="1.0" />
<line x1="83.60" y1="635.30" x2="83.60" y2="635.30" stroke="#555" stroke-width="1.0" />
<line x1="81.10" y1="587.40" x2="86.10" y2="587.40" stroke="#222" stroke-width="1.2" />
<line x1="81.10" y1="635.30" x2="86.10" y2="635.30" stroke="#222" stroke-width="1.2" />
<rect x="79.40" y="613.60" width="8.40" height="21.70" fill="#d0102e" />
<line x1="79.40" y1="622.80" x2="87.80" y2="622.80" stroke="#7a0018" stroke-width="1.3" />
<circle cx="83.60" cy="613.60" r="0.95" fill="#4a0010"/>
<circle cx="83.60" cy="618.50" r="0.95" fill="#4a0010"/>
<circle cx="83.60" cy="622.80" r="0.95" fill="#4a0010"/>
<circle cx="80.50" cy="622.80" r="0.95" fill="#4a0010"/>
<circle cx="86.80" cy="622.80" r="0.95" fill="#4a0010"/>
<circle cx="80.00" cy="635.30" r="0.95" fill="#4a0010"/>
<circle cx="83.60" cy="635.30" r="0.95" fill="#4a0010"/>
<circle cx="87.20" cy="635.30" r="0.95" fill="#4a0010"/>
<circle cx="83.60" cy="587.40" r="0.95" fill="#4a0010"/>
<line x1="97.65" y1="602.30" x2="97.65" y2="605.40" stroke="#444" stroke-width="1.0" />
<line x1="97.65" y1="637.70" x2="97.65" y2="654.00" stroke="#444" stroke-width="1.0" />
<line x1="95.15" y1="602.30" x2="100.15" y2="602.30" stroke="#222" stroke-width="1.2" />
<line x1="95.15" y1="654.00" x2="100.15" y2="654.00" stroke="#222" stroke-width="1.2" />
<rect x="93.20" y="605.40" width="8.90" height="32.30" fill="url(#st2)" />
<line x1="93.20" y1="626.80" x2="102.10" y2="626.80" stroke="#7a0018" stroke-width="1.3" />
<circle cx="94.00" cy="604.60" r="0.95" fill="#4a0010"/>
<circle cx="96.30" cy="604.20" r="0.95" fill="#4a0010"/>
<circle cx="99.30" cy="604.20" r="0.95" fill="#4a0010"/>
<circle cx="101.40" cy="604.60" r="0.95" fill="#4a0010"/>
<circle cx="97.65" cy="602.30" r="0.95" fill="#4a0010"/>
<circle cx="97.65" cy="626.80" r="0.95" fill="#4a0010"/>
<circle cx="97.65" cy="631.60" r="0.95" fill="#4a0010"/>
<circle cx="97.65" cy="637.70" r="0.95" fill="#4a0010"/>
<circle cx="97.65" cy="654.00" r="0.95" fill="#4a0010"/>
<line x1="111.50" y1="604.30" x2="111.50" y2="604.30" stroke="#444" stroke-width="1.0" />
<line x1="111.50" y1="628.00" x2="111.50" y2="632.60" stroke="#444" stroke-width="1.0" />
<line x1="109.00" y1="604.30" x2="114.00" y2="604.30" stroke="#222" stroke-width="1.2" />
<line x1="109.00" y1="632.60" x2="114.00" y2="632.60" stroke="#222" stroke-width="1.2" />
<rect x="107.30" y="604.30" width="8.40" height="23.70" fill="url(#st2)" />
<line x1="107.30" y1="608.70" x2="115.70" y2="608.70" stroke="#7a0018" stroke-width="1.3" />
<circle cx="108.20" cy="603.80" r="0.95" fill="#4a0010"/>
<circle cx="110.50" cy="603.50" r="0.95" fill="#4a0010"/>
<circle cx="113.60" cy="603.00" r="0.95" fill="#4a0010"/>
<circle cx="115.00" cy="603.60" r="0.95" fill="#4a0010"/>
<circle cx="110.00" cy="608.70" r="0.95" fill="#4a0010"/>
<circle cx="113.50" cy="609.20" r="0.95" fill="#4a0010"/>
<circle cx="111.50" cy="628.00" r="0.95" fill="#4a0010"/>
<circle cx="111.50" cy="632.60" r="0.95" fill="#4a0010"/>
<text x="8.65" y="383.70" font-size="14" text-anchor="start" fill="#000" font-weight="bold" >G</text>
<clipPath id="c1"><rect x="60.6" y="403.0" width="114.70000000000002" height="100.80000000000001"/></clipPath>
<g clip-path="url(#c1)">
<linearGradient id="og1" x1="0" y1="0" x2="0" y2="1"><stop offset="0" stop-color="#fbe8b8"/><stop offset="0.22" stop-color="#f9d690"/><stop offset="0.42" stop-color="#f9c66c"/><stop offset="0.6" stop-color="#f9bd60"/><stop offset="1" stop-color="#f9bd60"/></linearGradient>
<polygon points="71.80,503.80 71.80,502.80 73.20,500.00 74.20,497.00 75.30,490.00 76.30,480.00 77.40,470.00 78.00,455.00 79.80,440.00 80.30,425.00 81.20,420.00 82.70,415.80 83.80,420.00 84.70,425.00 86.00,440.00 86.40,455.00 87.10,470.00 87.80,480.00 88.50,490.00 89.30,497.00 89.90,500.00 90.90,502.80 90.90,503.80" fill="url(#og1)" />
<polygon points="112.70,503.80 112.70,502.50 114.00,495.00 115.20,480.00 116.10,459.00 117.10,440.00 117.90,433.00 118.10,425.00 118.80,415.00 119.50,410.00 120.40,405.40 121.40,410.00 122.20,415.00 122.70,425.00 122.90,433.00 123.10,440.00 123.90,459.00 125.30,480.00 126.50,495.00 127.80,502.50 127.80,503.80" fill="#ec6266" stroke="#c23a48" stroke-width="0.45"/>
<line x1="97.50" y1="403.00" x2="97.50" y2="503.80" stroke="#727272" stroke-width="1.0" />
<line x1="97.50" y1="458.50" x2="171.00" y2="458.50" stroke="#727272" stroke-width="1.0" />
<line x1="171.00" y1="403.00" x2="171.00" y2="503.80" stroke="#b0b0b0" stroke-width="1.2" />
</g>
<rect x="60.60" y="403.00" width="114.70" height="100.80" fill="none" stroke="#1a1a1a" stroke-width="1.1"/>
<line x1="60.60" y1="402.50" x2="60.60" y2="504.50" stroke="#1a1a1a" stroke-width="1.5" />
<line x1="59.90" y1="503.80" x2="175.80" y2="503.80" stroke="#1a1a1a" stroke-width="1.5" />
<line x1="56.80" y1="503.60" x2="60.60" y2="503.60" stroke="#1a1a1a" stroke-width="1.0" />
<text x="53.40" y="506.50" font-size="8.3" text-anchor="end" fill="#2a2a2a" font-weight="normal" >0</text>
<line x1="56.80" y1="486.40" x2="60.60" y2="486.40" stroke="#1a1a1a" stroke-width="1.0" />
<text x="53.40" y="489.30" font-size="8.3" text-anchor="end" fill="#2a2a2a" font-weight="normal" >100</text>
<line x1="56.80" y1="469.20" x2="60.60" y2="469.20" stroke="#1a1a1a" stroke-width="1.0" />
<text x="53.40" y="472.10" font-size="8.3" text-anchor="end" fill="#2a2a2a" font-weight="normal" >200</text>
<line x1="56.80" y1="452.00" x2="60.60" y2="452.00" stroke="#1a1a1a" stroke-width="1.0" />
<text x="53.40" y="454.90" font-size="8.3" text-anchor="end" fill="#2a2a2a" font-weight="normal" >300</text>
<line x1="56.80" y1="434.80" x2="60.60" y2="434.80" stroke="#1a1a1a" stroke-width="1.0" />
<text x="53.40" y="437.70" font-size="8.3" text-anchor="end" fill="#2a2a2a" font-weight="normal" >400</text>
<line x1="56.80" y1="417.60" x2="60.60" y2="417.60" stroke="#1a1a1a" stroke-width="1.0" />
<text x="53.40" y="420.50" font-size="8.3" text-anchor="end" fill="#2a2a2a" font-weight="normal" >500</text>
<line x1="58.70" y1="503.60" x2="60.60" y2="503.60" stroke="#1a1a1a" stroke-width="0.7" />
<line x1="58.70" y1="501.88" x2="60.60" y2="501.88" stroke="#1a1a1a" stroke-width="0.7" />
<line x1="58.70" y1="500.16" x2="60.60" y2="500.16" stroke="#1a1a1a" stroke-width="0.7" />
<line x1="58.70" y1="498.44" x2="60.60" y2="498.44" stroke="#1a1a1a" stroke-width="0.7" />
<line x1="58.70" y1="496.72" x2="60.60" y2="496.72" stroke="#1a1a1a" stroke-width="0.7" />
<line x1="58.70" y1="495.00" x2="60.60" y2="495.00" stroke="#1a1a1a" stroke-width="0.7" />
<line x1="58.70" y1="493.28" x2="60.60" y2="493.28" stroke="#1a1a1a" stroke-width="0.7" />
<line x1="58.70" y1="491.56" x2="60.60" y2="491.56" stroke="#1a1a1a" stroke-width="0.7" />
<line x1="58.70" y1="489.84" x2="60.60" y2="489.84" stroke="#1a1a1a" stroke-width="0.7" />
<line x1="58.70" y1="488.12" x2="60.60" y2="488.12" stroke="#1a1a1a" stroke-width="0.7" />
<line x1="58.70" y1="486.40" x2="60.60" y2="486.40" stroke="#1a1a1a" stroke-width="0.7" />
<line x1="58.70" y1="484.68" x2="60.60" y2="484.68" stroke="#1a1a1a" stroke-width="0.7" />
<line x1="58.70" y1="482.96" x2="60.60" y2="482.96" stroke="#1a1a1a" stroke-width="0.7" />
<line x1="58.70" y1="481.24" x2="60.60" y2="481.24" stroke="#1a1a1a" stroke-width="0.7" />
<line x1="58.70" y1="479.52" x2="60.60" y2="479.52" stroke="#1a1a1a" stroke-width="0.7" />
<line x1="58.70" y1="477.80" x2="60.60" y2="477.80" stroke="#1a1a1a" stroke-width="0.7" />
<line x1="58.70" y1="476.08" x2="60.60" y2="476.08" stroke="#1a1a1a" stroke-width="0.7" />
<line x1="58.70" y1="474.36" x2="60.60" y2="474.36" stroke="#1a1a1a" stroke-width="0.7" />
<line x1="58.70" y1="472.64" x2="60.60" y2="472.64" stroke="#1a1a1a" stroke-width="0.7" />
<line x1="58.70" y1="470.92" x2="60.60" y2="470.92" stroke="#1a1a1a" stroke-width="0.7" />
<line x1="58.70" y1="469.20" x2="60.60" y2="469.20" stroke="#1a1a1a" stroke-width="0.7" />
<line x1="58.70" y1="467.48" x2="60.60" y2="467.48" stroke="#1a1a1a" stroke-width="0.7" />
<line x1="58.70" y1="465.76" x2="60.60" y2="465.76" stroke="#1a1a1a" stroke-width="0.7" />
<line x1="58.70" y1="464.04" x2="60.60" y2="464.04" stroke="#1a1a1a" stroke-width="0.7" />
<line x1="58.70" y1="462.32" x2="60.60" y2="462.32" stroke="#1a1a1a" stroke-width="0.7" />
<line x1="58.70" y1="460.60" x2="60.60" y2="460.60" stroke="#1a1a1a" stroke-width="0.7" />
<line x1="58.70" y1="458.88" x2="60.60" y2="458.88" stroke="#1a1a1a" stroke-width="0.7" />
<line x1="58.70" y1="457.16" x2="60.60" y2="457.16" stroke="#1a1a1a" stroke-width="0.7" />
<line x1="58.70" y1="455.44" x2="60.60" y2="455.44" stroke="#1a1a1a" stroke-width="0.7" />
<line x1="58.70" y1="453.72" x2="60.60" y2="453.72" stroke="#1a1a1a" stroke-width="0.7" />
<line x1="58.70" y1="452.00" x2="60.60" y2="452.00" stroke="#1a1a1a" stroke-width="0.7" />
<line x1="58.70" y1="450.28" x2="60.60" y2="450.28" stroke="#1a1a1a" stroke-width="0.7" />
<line x1="58.70" y1="448.56" x2="60.60" y2="448.56" stroke="#1a1a1a" stroke-width="0.7" />
<line x1="58.70" y1="446.84" x2="60.60" y2="446.84" stroke="#1a1a1a" stroke-width="0.7" />
<line x1="58.70" y1="445.12" x2="60.60" y2="445.12" stroke="#1a1a1a" stroke-width="0.7" />
<line x1="58.70" y1="443.40" x2="60.60" y2="443.40" stroke="#1a1a1a" stroke-width="0.7" />
<line x1="58.70" y1="441.68" x2="60.60" y2="441.68" stroke="#1a1a1a" stroke-width="0.7" />
<line x1="58.70" y1="439.96" x2="60.60" y2="439.96" stroke="#1a1a1a" stroke-width="0.7" />
<line x1="58.70" y1="438.24" x2="60.60" y2="438.24" stroke="#1a1a1a" stroke-width="0.7" />
<line x1="58.70" y1="436.52" x2="60.60" y2="436.52" stroke="#1a1a1a" stroke-width="0.7" />
<line x1="58.70" y1="434.80" x2="60.60" y2="434.80" stroke="#1a1a1a" stroke-width="0.7" />
<line x1="58.70" y1="433.08" x2="60.60" y2="433.08" stroke="#1a1a1a" stroke-width="0.7" />
<line x1="58.70" y1="431.36" x2="60.60" y2="431.36" stroke="#1a1a1a" stroke-width="0.7" />
<line x1="58.70" y1="429.64" x2="60.60" y2="429.64" stroke="#1a1a1a" stroke-width="0.7" />
<line x1="58.70" y1="427.92" x2="60.60" y2="427.92" stroke="#1a1a1a" stroke-width="0.7" />
<line x1="58.70" y1="426.20" x2="60.60" y2="426.20" stroke="#1a1a1a" stroke-width="0.7" />
<line x1="58.70" y1="424.48" x2="60.60" y2="424.48" stroke="#1a1a1a" stroke-width="0.7" />
<line x1="58.70" y1="422.76" x2="60.60" y2="422.76" stroke="#1a1a1a" stroke-width="0.7" />
<line x1="58.70" y1="421.04" x2="60.60" y2="421.04" stroke="#1a1a1a" stroke-width="0.7" />
<line x1="58.70" y1="419.32" x2="60.60" y2="419.32" stroke="#1a1a1a" stroke-width="0.7" />
<line x1="58.70" y1="417.60" x2="60.60" y2="417.60" stroke="#1a1a1a" stroke-width="0.7" />
<line x1="58.70" y1="415.88" x2="60.60" y2="415.88" stroke="#1a1a1a" stroke-width="0.7" />
<line x1="58.70" y1="414.16" x2="60.60" y2="414.16" stroke="#1a1a1a" stroke-width="0.7" />
<line x1="58.70" y1="412.44" x2="60.60" y2="412.44" stroke="#1a1a1a" stroke-width="0.7" />
<line x1="58.70" y1="410.72" x2="60.60" y2="410.72" stroke="#1a1a1a" stroke-width="0.7" />
<line x1="58.70" y1="409.00" x2="60.60" y2="409.00" stroke="#1a1a1a" stroke-width="0.7" />
<line x1="58.70" y1="407.28" x2="60.60" y2="407.28" stroke="#1a1a1a" stroke-width="0.7" />
<line x1="58.70" y1="405.56" x2="60.60" y2="405.56" stroke="#1a1a1a" stroke-width="0.7" />
<line x1="58.70" y1="403.84" x2="60.60" y2="403.84" stroke="#1a1a1a" stroke-width="0.7" />
<line x1="71.50" y1="503.80" x2="71.50" y2="506.80" stroke="#1a1a1a" stroke-width="1.0" />
<text x="71.50" y="518.40" font-size="7.5" text-anchor="middle" fill="#2a2a2a" font-weight="normal" >0</text>
<line x1="85.40" y1="503.80" x2="85.40" y2="506.80" stroke="#1a1a1a" stroke-width="1.0" />
<text x="85.40" y="518.40" font-size="7.5" text-anchor="middle" fill="#2a2a2a" font-weight="normal" >10<tspan dy="-3" font-size="5">2</tspan></text>
<line x1="113.10" y1="503.80" x2="113.10" y2="506.80" stroke="#1a1a1a" stroke-width="1.0" />
<text x="113.10" y="518.40" font-size="7.5" text-anchor="middle" fill="#2a2a2a" font-weight="normal" >10<tspan dy="-3" font-size="5">3</tspan></text>
<line x1="139.50" y1="503.80" x2="139.50" y2="506.80" stroke="#1a1a1a" stroke-width="1.0" />
<text x="139.50" y="518.40" font-size="7.5" text-anchor="middle" fill="#2a2a2a" font-weight="normal" >10<tspan dy="-3" font-size="5">4</tspan></text>
<line x1="165.30" y1="503.80" x2="165.30" y2="506.80" stroke="#1a1a1a" stroke-width="1.0" />
<text x="165.30" y="518.40" font-size="7.5" text-anchor="middle" fill="#2a2a2a" font-weight="normal" >10<tspan dy="-3" font-size="5">5</tspan></text>
<line x1="93.74" y1="503.80" x2="93.74" y2="505.40" stroke="#1a1a1a" stroke-width="0.6" />
<line x1="98.62" y1="503.80" x2="98.62" y2="505.40" stroke="#1a1a1a" stroke-width="0.6" />
<line x1="102.08" y1="503.80" x2="102.08" y2="505.40" stroke="#1a1a1a" stroke-width="0.6" />
<line x1="104.76" y1="503.80" x2="104.76" y2="505.40" stroke="#1a1a1a" stroke-width="0.6" />
<line x1="106.95" y1="503.80" x2="106.95" y2="505.40" stroke="#1a1a1a" stroke-width="0.6" />
<line x1="108.81" y1="503.80" x2="108.81" y2="505.40" stroke="#1a1a1a" stroke-width="0.6" />
<line x1="110.42" y1="503.80" x2="110.42" y2="505.40" stroke="#1a1a1a" stroke-width="0.6" />
<line x1="111.83" y1="503.80" x2="111.83" y2="505.40" stroke="#1a1a1a" stroke-width="0.6" />
<line x1="121.05" y1="503.80" x2="121.05" y2="505.40" stroke="#1a1a1a" stroke-width="0.6" />
<line x1="125.70" y1="503.80" x2="125.70" y2="505.40" stroke="#1a1a1a" stroke-width="0.6" />
<line x1="128.99" y1="503.80" x2="128.99" y2="505.40" stroke="#1a1a1a" stroke-width="0.6" />
<line x1="131.55" y1="503.80" x2="131.55" y2="505.40" stroke="#1a1a1a" stroke-width="0.6" />
<line x1="133.64" y1="503.80" x2="133.64" y2="505.40" stroke="#1a1a1a" stroke-width="0.6" />
<line x1="135.41" y1="503.80" x2="135.41" y2="505.40" stroke="#1a1a1a" stroke-width="0.6" />
<line x1="136.94" y1="503.80" x2="136.94" y2="505.40" stroke="#1a1a1a" stroke-width="0.6" />
<line x1="138.29" y1="503.80" x2="138.29" y2="505.40" stroke="#1a1a1a" stroke-width="0.6" />
<line x1="147.27" y1="503.80" x2="147.27" y2="505.40" stroke="#1a1a1a" stroke-width="0.6" />
<line x1="151.81" y1="503.80" x2="151.81" y2="505.40" stroke="#1a1a1a" stroke-width="0.6" />
<line x1="155.03" y1="503.80" x2="155.03" y2="505.40" stroke="#1a1a1a" stroke-width="0.6" />
<line x1="157.53" y1="503.80" x2="157.53" y2="505.40" stroke="#1a1a1a" stroke-width="0.6" />
<line x1="159.58" y1="503.80" x2="159.58" y2="505.40" stroke="#1a1a1a" stroke-width="0.6" />
<line x1="161.30" y1="503.80" x2="161.30" y2="505.40" stroke="#1a1a1a" stroke-width="0.6" />
<line x1="162.80" y1="503.80" x2="162.80" y2="505.40" stroke="#1a1a1a" stroke-width="0.6" />
<line x1="164.12" y1="503.80" x2="164.12" y2="505.40" stroke="#1a1a1a" stroke-width="0.6" />
<line x1="68.50" y1="503.80" x2="68.50" y2="505.40" stroke="#1a1a1a" stroke-width="0.6" />
<line x1="70.00" y1="503.80" x2="70.00" y2="505.40" stroke="#1a1a1a" stroke-width="0.6" />
<line x1="73.00" y1="503.80" x2="73.00" y2="505.40" stroke="#1a1a1a" stroke-width="0.6" />
<line x1="74.50" y1="503.80" x2="74.50" y2="505.40" stroke="#1a1a1a" stroke-width="0.6" />
<line x1="76.50" y1="503.80" x2="76.50" y2="505.40" stroke="#1a1a1a" stroke-width="0.6" />
<line x1="80.45" y1="503.80" x2="80.45" y2="505.40" stroke="#1a1a1a" stroke-width="0.6" />
<text x="117.95" y="397.00" font-size="10" text-anchor="middle" fill="#222" font-weight="normal" >Control</text>
<clipPath id="c2"><rect x="228.7" y="403.1" width="114.60000000000002" height="100.59999999999997"/></clipPath>
<g clip-path="url(#c2)">
<polygon points="239.00,503.00 240.00,495.00 241.50,491.00 243.00,488.00 244.80,485.00 246.00,489.00 247.50,487.50 249.00,490.00 250.50,489.00 252.00,492.00 253.30,495.00 254.00,503.00" fill="#f9bd60" opacity="0.55"/>
<polygon points="253.30,503.00 254.20,495.00 255.20,487.00 256.20,478.00 256.80,470.00 257.30,455.00 257.80,440.00 258.40,425.00 259.20,410.00 259.80,400.00 264.50,400.00 265.30,420.00 265.60,440.00 266.00,460.00 266.50,474.00 267.30,482.00 268.20,492.00 268.60,503.00" fill="#f9bd60" />
<polygon points="266.00,503.00 267.00,491.00 270.00,491.00 273.00,490.50 276.00,490.00 277.50,486.00 278.60,484.00 279.60,482.50 280.50,486.00 281.40,483.40 282.50,487.00 284.00,488.00 286.00,487.50 288.00,489.00 290.00,488.50 292.00,490.00 294.00,489.00 296.00,491.50 298.00,491.00 300.00,492.50 302.00,494.00 303.60,496.00 304.50,503.00" fill="#f9bd60" />
<polygon points="268.00,503.00 268.40,490.00 268.80,483.00 269.70,478.80 270.80,482.00 271.80,479.00 272.80,477.00 273.80,479.50 274.50,482.00 275.30,486.00 276.20,491.00 276.60,503.00" fill="#ec6266" />
<polygon points="283.40,503.00 283.90,490.00 284.50,480.00 285.20,470.00 286.20,460.00 287.30,451.70 288.20,457.00 289.10,465.00 290.00,470.00 290.90,478.00 291.60,486.00 292.20,494.00 292.50,503.00" fill="#ec6266" />
<polygon points="239.50,503.00 240.50,497.00 242.00,494.00 243.50,492.50 245.00,491.00 246.10,489.60 247.30,491.00 248.50,493.00 249.80,492.50 251.30,491.40 252.30,494.00 253.30,498.00 254.00,503.00" fill="#f08030" opacity="0.92"/>
<polygon points="265.50,503.00 266.20,496.00 267.00,491.00 268.00,488.50 269.50,489.50 271.00,490.00 272.50,490.50 274.00,490.00 275.50,488.50 276.50,487.00 277.50,489.50 279.00,490.00 281.00,489.20 283.00,489.50 285.00,488.50 286.50,487.50 288.00,489.00 289.50,489.50 291.00,490.50 292.30,492.50 293.20,496.00 293.80,503.00" fill="#f08030" opacity="0.92"/>
<line x1="277.50" y1="403.10" x2="277.50" y2="503.70" stroke="#8c8c8c" stroke-width="1.0" />
<line x1="277.50" y1="498.50" x2="342.40" y2="498.50" stroke="#8c8c8c" stroke-width="1.0" />
<line x1="342.40" y1="403.10" x2="342.40" y2="503.70" stroke="#b0b0b0" stroke-width="1.2" />
</g>
<rect x="228.70" y="403.10" width="114.60" height="100.60" fill="none" stroke="#1a1a1a" stroke-width="1.1"/>
<line x1="228.70" y1="402.60" x2="228.70" y2="504.40" stroke="#1a1a1a" stroke-width="1.5" />
<line x1="228.00" y1="503.70" x2="343.80" y2="503.70" stroke="#1a1a1a" stroke-width="1.5" />
<line x1="224.90" y1="503.60" x2="228.70" y2="503.60" stroke="#1a1a1a" stroke-width="1.0" />
<text x="221.50" y="506.50" font-size="8.3" text-anchor="end" fill="#2a2a2a" font-weight="normal" >0</text>
<line x1="224.90" y1="481.50" x2="228.70" y2="481.50" stroke="#1a1a1a" stroke-width="1.0" />
<text x="221.50" y="484.40" font-size="8.3" text-anchor="end" fill="#2a2a2a" font-weight="normal" >50</text>
<line x1="224.90" y1="459.30" x2="228.70" y2="459.30" stroke="#1a1a1a" stroke-width="1.0" />
<text x="221.50" y="462.20" font-size="8.3" text-anchor="end" fill="#2a2a2a" font-weight="normal" >100</text>
<line x1="224.90" y1="437.10" x2="228.70" y2="437.10" stroke="#1a1a1a" stroke-width="1.0" />
<text x="221.50" y="440.00" font-size="8.3" text-anchor="end" fill="#2a2a2a" font-weight="normal" >150</text>
<line x1="224.90" y1="414.90" x2="228.70" y2="414.90" stroke="#1a1a1a" stroke-width="1.0" />
<text x="221.50" y="417.80" font-size="8.3" text-anchor="end" fill="#2a2a2a" font-weight="normal" >200</text>
<line x1="226.80" y1="503.60" x2="228.70" y2="503.60" stroke="#1a1a1a" stroke-width="0.7" />
<line x1="226.80" y1="499.18" x2="228.70" y2="499.18" stroke="#1a1a1a" stroke-width="0.7" />
<line x1="226.80" y1="494.76" x2="228.70" y2="494.76" stroke="#1a1a1a" stroke-width="0.7" />
<line x1="226.80" y1="490.34" x2="228.70" y2="490.34" stroke="#1a1a1a" stroke-width="0.7" />
<line x1="226.80" y1="485.92" x2="228.70" y2="485.92" stroke="#1a1a1a" stroke-width="0.7" />
<line x1="226.80" y1="481.50" x2="228.70" y2="481.50" stroke="#1a1a1a" stroke-width="0.7" />
<line x1="226.80" y1="477.08" x2="228.70" y2="477.08" stroke="#1a1a1a" stroke-width="0.7" />
<line x1="226.80" y1="472.66" x2="228.70" y2="472.66" stroke="#1a1a1a" stroke-width="0.7" />
<line x1="226.80" y1="468.24" x2="228.70" y2="468.24" stroke="#1a1a1a" stroke-width="0.7" />
<line x1="226.80" y1="463.82" x2="228.70" y2="463.82" stroke="#1a1a1a" stroke-width="0.7" />
<line x1="226.80" y1="459.40" x2="228.70" y2="459.40" stroke="#1a1a1a" stroke-width="0.7" />
<line x1="226.80" y1="454.98" x2="228.70" y2="454.98" stroke="#1a1a1a" stroke-width="0.7" />
<line x1="226.80" y1="450.56" x2="228.70" y2="450.56" stroke="#1a1a1a" stroke-width="0.7" />
<line x1="226.80" y1="446.14" x2="228.70" y2="446.14" stroke="#1a1a1a" stroke-width="0.7" />
<line x1="226.80" y1="441.72" x2="228.70" y2="441.72" stroke="#1a1a1a" stroke-width="0.7" />
<line x1="226.80" y1="437.30" x2="228.70" y2="437.30" stroke="#1a1a1a" stroke-width="0.7" />
<line x1="226.80" y1="432.88" x2="228.70" y2="432.88" stroke="#1a1a1a" stroke-width="0.7" />
<line x1="226.80" y1="428.46" x2="228.70" y2="428.46" stroke="#1a1a1a" stroke-width="0.7" />
<line x1="226.80" y1="424.04" x2="228.70" y2="424.04" stroke="#1a1a1a" stroke-width="0.7" />
<line x1="226.80" y1="419.62" x2="228.70" y2="419.62" stroke="#1a1a1a" stroke-width="0.7" />
<line x1="226.80" y1="415.20" x2="228.70" y2="415.20" stroke="#1a1a1a" stroke-width="0.7" />
<line x1="226.80" y1="410.78" x2="228.70" y2="410.78" stroke="#1a1a1a" stroke-width="0.7" />
<line x1="226.80" y1="406.36" x2="228.70" y2="406.36" stroke="#1a1a1a" stroke-width="0.7" />
<line x1="241.90" y1="503.70" x2="241.90" y2="506.70" stroke="#1a1a1a" stroke-width="1.0" />
<text x="241.90" y="518.30" font-size="7.5" text-anchor="middle" fill="#2a2a2a" font-weight="normal" >0</text>
<line x1="253.70" y1="503.70" x2="253.70" y2="506.70" stroke="#1a1a1a" stroke-width="1.0" />
<text x="253.70" y="518.30" font-size="7.5" text-anchor="middle" fill="#2a2a2a" font-weight="normal" >10<tspan dy="-3" font-size="5">2</tspan></text>
<line x1="281.00" y1="503.70" x2="281.00" y2="506.70" stroke="#1a1a1a" stroke-width="1.0" />
<text x="281.00" y="518.30" font-size="7.5" text-anchor="middle" fill="#2a2a2a" font-weight="normal" >10<tspan dy="-3" font-size="5">3</tspan></text>
<line x1="307.20" y1="503.70" x2="307.20" y2="506.70" stroke="#1a1a1a" stroke-width="1.0" />
<text x="307.20" y="518.30" font-size="7.5" text-anchor="middle" fill="#2a2a2a" font-weight="normal" >10<tspan dy="-3" font-size="5">4</tspan></text>
<line x1="333.30" y1="503.70" x2="333.30" y2="506.70" stroke="#1a1a1a" stroke-width="1.0" />
<text x="333.30" y="518.30" font-size="7.5" text-anchor="middle" fill="#2a2a2a" font-weight="normal" >10<tspan dy="-3" font-size="5">5</tspan></text>
<line x1="261.92" y1="503.70" x2="261.92" y2="505.30" stroke="#1a1a1a" stroke-width="0.6" />
<line x1="266.73" y1="503.70" x2="266.73" y2="505.30" stroke="#1a1a1a" stroke-width="0.6" />
<line x1="270.14" y1="503.70" x2="270.14" y2="505.30" stroke="#1a1a1a" stroke-width="0.6" />
<line x1="272.78" y1="503.70" x2="272.78" y2="505.30" stroke="#1a1a1a" stroke-width="0.6" />
<line x1="274.94" y1="503.70" x2="274.94" y2="505.30" stroke="#1a1a1a" stroke-width="0.6" />
<line x1="276.77" y1="503.70" x2="276.77" y2="505.30" stroke="#1a1a1a" stroke-width="0.6" />
<line x1="278.35" y1="503.70" x2="278.35" y2="505.30" stroke="#1a1a1a" stroke-width="0.6" />
<line x1="279.75" y1="503.70" x2="279.75" y2="505.30" stroke="#1a1a1a" stroke-width="0.6" />
<line x1="288.89" y1="503.70" x2="288.89" y2="505.30" stroke="#1a1a1a" stroke-width="0.6" />
<line x1="293.50" y1="503.70" x2="293.50" y2="505.30" stroke="#1a1a1a" stroke-width="0.6" />
<line x1="296.77" y1="503.70" x2="296.77" y2="505.30" stroke="#1a1a1a" stroke-width="0.6" />
<line x1="299.31" y1="503.70" x2="299.31" y2="505.30" stroke="#1a1a1a" stroke-width="0.6" />
<line x1="301.39" y1="503.70" x2="301.39" y2="505.30" stroke="#1a1a1a" stroke-width="0.6" />
<line x1="303.14" y1="503.70" x2="303.14" y2="505.30" stroke="#1a1a1a" stroke-width="0.6" />
<line x1="304.66" y1="503.70" x2="304.66" y2="505.30" stroke="#1a1a1a" stroke-width="0.6" />
<line x1="306.00" y1="503.70" x2="306.00" y2="505.30" stroke="#1a1a1a" stroke-width="0.6" />
<line x1="315.06" y1="503.70" x2="315.06" y2="505.30" stroke="#1a1a1a" stroke-width="0.6" />
<line x1="319.65" y1="503.70" x2="319.65" y2="505.30" stroke="#1a1a1a" stroke-width="0.6" />
<line x1="322.91" y1="503.70" x2="322.91" y2="505.30" stroke="#1a1a1a" stroke-width="0.6" />
<line x1="325.44" y1="503.70" x2="325.44" y2="505.30" stroke="#1a1a1a" stroke-width="0.6" />
<line x1="327.51" y1="503.70" x2="327.51" y2="505.30" stroke="#1a1a1a" stroke-width="0.6" />
<line x1="329.26" y1="503.70" x2="329.26" y2="505.30" stroke="#1a1a1a" stroke-width="0.6" />
<line x1="330.77" y1="503.70" x2="330.77" y2="505.30" stroke="#1a1a1a" stroke-width="0.6" />
<line x1="332.11" y1="503.70" x2="332.11" y2="505.30" stroke="#1a1a1a" stroke-width="0.6" />
<line x1="238.90" y1="503.70" x2="238.90" y2="505.30" stroke="#1a1a1a" stroke-width="0.6" />
<line x1="240.40" y1="503.70" x2="240.40" y2="505.30" stroke="#1a1a1a" stroke-width="0.6" />
<line x1="243.40" y1="503.70" x2="243.40" y2="505.30" stroke="#1a1a1a" stroke-width="0.6" />
<line x1="244.90" y1="503.70" x2="244.90" y2="505.30" stroke="#1a1a1a" stroke-width="0.6" />
<line x1="246.90" y1="503.70" x2="246.90" y2="505.30" stroke="#1a1a1a" stroke-width="0.6" />
<line x1="249.80" y1="503.70" x2="249.80" y2="505.30" stroke="#1a1a1a" stroke-width="0.6" />
<text x="286.00" y="397.10" font-size="10" text-anchor="middle" fill="#222" font-weight="normal" >Pt 2 (0)</text>
<clipPath id="c3"><rect x="396.9" y="403.5" width="112.90000000000003" height="99.80000000000001"/></clipPath>
<g clip-path="url(#c3)">
<linearGradient id="og3" x1="0" y1="0" x2="0" y2="1"><stop offset="0" stop-color="#eeeedd"/><stop offset="0.12" stop-color="#e8dcb0"/><stop offset="0.25" stop-color="#f4c065"/><stop offset="0.4" stop-color="#f9bd60"/><stop offset="1" stop-color="#f9bd60"/></linearGradient>
<polygon points="414.20,503.30 414.20,502.50 416.00,495.00 417.80,480.00 419.00,465.00 420.00,453.00 421.10,440.00 421.80,420.00 422.20,415.50 423.20,405.80 424.20,415.50 424.90,420.00 426.30,440.00 426.80,453.00 428.00,465.00 429.30,480.00 430.80,495.00 432.30,502.50 432.30,503.30" fill="url(#og3)" />
<polygon points="444.80,503.30 444.80,502.50 446.50,495.00 448.40,480.00 449.60,470.00 450.70,455.00 451.50,440.00 452.20,420.00 453.00,407.30 453.80,405.00 454.90,403.50 455.60,405.00 455.80,407.30 456.00,420.00 456.40,440.00 457.20,455.00 458.00,470.00 458.70,480.00 460.00,495.00 461.20,502.50 461.20,503.30" fill="#ec6266" stroke="#c23a48" stroke-width="0.45"/>
<line x1="443.00" y1="403.50" x2="443.00" y2="503.30" stroke="#8c8c8c" stroke-width="1.0" />
<line x1="443.00" y1="500.50" x2="506.50" y2="500.50" stroke="#8c8c8c" stroke-width="1.0" />
<line x1="506.50" y1="403.50" x2="506.50" y2="503.30" stroke="#b0b0b0" stroke-width="1.2" />
</g>
<rect x="396.90" y="403.50" width="112.90" height="99.80" fill="none" stroke="#1a1a1a" stroke-width="1.1"/>
<line x1="396.90" y1="403.00" x2="396.90" y2="504.00" stroke="#1a1a1a" stroke-width="1.5" />
<line x1="396.20" y1="503.30" x2="510.30" y2="503.30" stroke="#1a1a1a" stroke-width="1.5" />
<line x1="393.10" y1="503.30" x2="396.90" y2="503.30" stroke="#1a1a1a" stroke-width="1.0" />
<text x="389.70" y="506.20" font-size="8.3" text-anchor="end" fill="#2a2a2a" font-weight="normal" >0</text>
<line x1="393.10" y1="486.70" x2="396.90" y2="486.70" stroke="#1a1a1a" stroke-width="1.0" />
<text x="389.70" y="489.60" font-size="8.3" text-anchor="end" fill="#2a2a2a" font-weight="normal" >100</text>
<line x1="393.10" y1="470.10" x2="396.90" y2="470.10" stroke="#1a1a1a" stroke-width="1.0" />
<text x="389.70" y="473.00" font-size="8.3" text-anchor="end" fill="#2a2a2a" font-weight="normal" >200</text>
<line x1="393.10" y1="453.60" x2="396.90" y2="453.60" stroke="#1a1a1a" stroke-width="1.0" />
<text x="389.70" y="456.50" font-size="8.3" text-anchor="end" fill="#2a2a2a" font-weight="normal" >300</text>
<line x1="393.10" y1="437.00" x2="396.90" y2="437.00" stroke="#1a1a1a" stroke-width="1.0" />
<text x="389.70" y="439.90" font-size="8.3" text-anchor="end" fill="#2a2a2a" font-weight="normal" >400</text>
<line x1="393.10" y1="420.40" x2="396.90" y2="420.40" stroke="#1a1a1a" stroke-width="1.0" />
<text x="389.70" y="423.30" font-size="8.3" text-anchor="end" fill="#2a2a2a" font-weight="normal" >500</text>
<line x1="393.10" y1="403.80" x2="396.90" y2="403.80" stroke="#1a1a1a" stroke-width="1.0" />
<text x="389.70" y="406.70" font-size="8.3" text-anchor="end" fill="#2a2a2a" font-weight="normal" >600</text>
<line x1="395.00" y1="503.30" x2="396.90" y2="503.30" stroke="#1a1a1a" stroke-width="0.7" />
<line x1="395.00" y1="501.64" x2="396.90" y2="501.64" stroke="#1a1a1a" stroke-width="0.7" />
<line x1="395.00" y1="499.98" x2="396.90" y2="499.98" stroke="#1a1a1a" stroke-width="0.7" />
<line x1="395.00" y1="498.32" x2="396.90" y2="498.32" stroke="#1a1a1a" stroke-width="0.7" />
<line x1="395.00" y1="496.66" x2="396.90" y2="496.66" stroke="#1a1a1a" stroke-width="0.7" />
<line x1="395.00" y1="495.00" x2="396.90" y2="495.00" stroke="#1a1a1a" stroke-width="0.7" />
<line x1="395.00" y1="493.34" x2="396.90" y2="493.34" stroke="#1a1a1a" stroke-width="0.7" />
<line x1="395.00" y1="491.68" x2="396.90" y2="491.68" stroke="#1a1a1a" stroke-width="0.7" />
<line x1="395.00" y1="490.02" x2="396.90" y2="490.02" stroke="#1a1a1a" stroke-width="0.7" />
<line x1="395.00" y1="488.36" x2="396.90" y2="488.36" stroke="#1a1a1a" stroke-width="0.7" />
<line x1="395.00" y1="486.70" x2="396.90" y2="486.70" stroke="#1a1a1a" stroke-width="0.7" />
<line x1="395.00" y1="485.04" x2="396.90" y2="485.04" stroke="#1a1a1a" stroke-width="0.7" />
<line x1="395.00" y1="483.38" x2="396.90" y2="483.38" stroke="#1a1a1a" stroke-width="0.7" />
<line x1="395.00" y1="481.72" x2="396.90" y2="481.72" stroke="#1a1a1a" stroke-width="0.7" />
<line x1="395.00" y1="480.06" x2="396.90" y2="480.06" stroke="#1a1a1a" stroke-width="0.7" />
<line x1="395.00" y1="478.40" x2="396.90" y2="478.40" stroke="#1a1a1a" stroke-width="0.7" />
<line x1="395.00" y1="476.74" x2="396.90" y2="476.74" stroke="#1a1a1a" stroke-width="0.7" />
<line x1="395.00" y1="475.08" x2="396.90" y2="475.08" stroke="#1a1a1a" stroke-width="0.7" />
<line x1="395.00" y1="473.42" x2="396.90" y2="473.42" stroke="#1a1a1a" stroke-width="0.7" />
<line x1="395.00" y1="471.76" x2="396.90" y2="471.76" stroke="#1a1a1a" stroke-width="0.7" />
<line x1="395.00" y1="470.10" x2="396.90" y2="470.10" stroke="#1a1a1a" stroke-width="0.7" />
<line x1="395.00" y1="468.44" x2="396.90" y2="468.44" stroke="#1a1a1a" stroke-width="0.7" />
<line x1="395.00" y1="466.78" x2="396.90" y2="466.78" stroke="#1a1a1a" stroke-width="0.7" />
<line x1="395.00" y1="465.12" x2="396.90" y2="465.12" stroke="#1a1a1a" stroke-width="0.7" />
<line x1="395.00" y1="463.46" x2="396.90" y2="463.46" stroke="#1a1a1a" stroke-width="0.7" />
<line x1="395.00" y1="461.80" x2="396.90" y2="461.80" stroke="#1a1a1a" stroke-width="0.7" />
<line x1="395.00" y1="460.14" x2="396.90" y2="460.14" stroke="#1a1a1a" stroke-width="0.7" />
<line x1="395.00" y1="458.48" x2="396.90" y2="458.48" stroke="#1a1a1a" stroke-width="0.7" />
<line x1="395.00" y1="456.82" x2="396.90" y2="456.82" stroke="#1a1a1a" stroke-width="0.7" />
<line x1="395.00" y1="455.16" x2="396.90" y2="455.16" stroke="#1a1a1a" stroke-width="0.7" />
<line x1="395.00" y1="453.50" x2="396.90" y2="453.50" stroke="#1a1a1a" stroke-width="0.7" />
<line x1="395.00" y1="451.84" x2="396.90" y2="451.84" stroke="#1a1a1a" stroke-width="0.7" />
<line x1="395.00" y1="450.18" x2="396.90" y2="450.18" stroke="#1a1a1a" stroke-width="0.7" />
<line x1="395.00" y1="448.52" x2="396.90" y2="448.52" stroke="#1a1a1a" stroke-width="0.7" />
<line x1="395.00" y1="446.86" x2="396.90" y2="446.86" stroke="#1a1a1a" stroke-width="0.7" />
<line x1="395.00" y1="445.20" x2="396.90" y2="445.20" stroke="#1a1a1a" stroke-width="0.7" />
<line x1="395.00" y1="443.54" x2="396.90" y2="443.54" stroke="#1a1a1a" stroke-width="0.7" />
<line x1="395.00" y1="441.88" x2="396.90" y2="441.88" stroke="#1a1a1a" stroke-width="0.7" />
<line x1="395.00" y1="440.22" x2="396.90" y2="440.22" stroke="#1a1a1a" stroke-width="0.7" />
<line x1="395.00" y1="438.56" x2="396.90" y2="438.56" stroke="#1a1a1a" stroke-width="0.7" />
<line x1="395.00" y1="436.90" x2="396.90" y2="436.90" stroke="#1a1a1a" stroke-width="0.7" />
<line x1="395.00" y1="435.24" x2="396.90" y2="435.24" stroke="#1a1a1a" stroke-width="0.7" />
<line x1="395.00" y1="433.58" x2="396.90" y2="433.58" stroke="#1a1a1a" stroke-width="0.7" />
<line x1="395.00" y1="431.92" x2="396.90" y2="431.92" stroke="#1a1a1a" stroke-width="0.7" />
<line x1="395.00" y1="430.26" x2="396.90" y2="430.26" stroke="#1a1a1a" stroke-width="0.7" />
<line x1="395.00" y1="428.60" x2="396.90" y2="428.60" stroke="#1a1a1a" stroke-width="0.7" />
<line x1="395.00" y1="426.94" x2="396.90" y2="426.94" stroke="#1a1a1a" stroke-width="0.7" />
<line x1="395.00" y1="425.28" x2="396.90" y2="425.28" stroke="#1a1a1a" stroke-width="0.7" />
<line x1="395.00" y1="423.62" x2="396.90" y2="423.62" stroke="#1a1a1a" stroke-width="0.7" />
<line x1="395.00" y1="421.96" x2="396.90" y2="421.96" stroke="#1a1a1a" stroke-width="0.7" />
<line x1="395.00" y1="420.30" x2="396.90" y2="420.30" stroke="#1a1a1a" stroke-width="0.7" />
<line x1="395.00" y1="418.64" x2="396.90" y2="418.64" stroke="#1a1a1a" stroke-width="0.7" />
<line x1="395.00" y1="416.98" x2="396.90" y2="416.98" stroke="#1a1a1a" stroke-width="0.7" />
<line x1="395.00" y1="415.32" x2="396.90" y2="415.32" stroke="#1a1a1a" stroke-width="0.7" />
<line x1="395.00" y1="413.66" x2="396.90" y2="413.66" stroke="#1a1a1a" stroke-width="0.7" />
<line x1="395.00" y1="412.00" x2="396.90" y2="412.00" stroke="#1a1a1a" stroke-width="0.7" />
<line x1="395.00" y1="410.34" x2="396.90" y2="410.34" stroke="#1a1a1a" stroke-width="0.7" />
<line x1="395.00" y1="408.68" x2="396.90" y2="408.68" stroke="#1a1a1a" stroke-width="0.7" />
<line x1="395.00" y1="407.02" x2="396.90" y2="407.02" stroke="#1a1a1a" stroke-width="0.7" />
<line x1="395.00" y1="405.36" x2="396.90" y2="405.36" stroke="#1a1a1a" stroke-width="0.7" />
<line x1="409.90" y1="503.30" x2="409.90" y2="506.30" stroke="#1a1a1a" stroke-width="1.0" />
<text x="409.90" y="517.90" font-size="7.5" text-anchor="middle" fill="#2a2a2a" font-weight="normal" >0</text>
<line x1="421.40" y1="503.30" x2="421.40" y2="506.30" stroke="#1a1a1a" stroke-width="1.0" />
<text x="421.40" y="517.90" font-size="7.5" text-anchor="middle" fill="#2a2a2a" font-weight="normal" >10<tspan dy="-3" font-size="5">2</tspan></text>
<line x1="449.10" y1="503.30" x2="449.10" y2="506.30" stroke="#1a1a1a" stroke-width="1.0" />
<text x="449.10" y="517.90" font-size="7.5" text-anchor="middle" fill="#2a2a2a" font-weight="normal" >10<tspan dy="-3" font-size="5">3</tspan></text>
<line x1="475.20" y1="503.30" x2="475.20" y2="506.30" stroke="#1a1a1a" stroke-width="1.0" />
<text x="475.20" y="517.90" font-size="7.5" text-anchor="middle" fill="#2a2a2a" font-weight="normal" >10<tspan dy="-3" font-size="5">4</tspan></text>
<line x1="501.30" y1="503.30" x2="501.30" y2="506.30" stroke="#1a1a1a" stroke-width="1.0" />
<text x="501.30" y="517.90" font-size="7.5" text-anchor="middle" fill="#2a2a2a" font-weight="normal" >10<tspan dy="-3" font-size="5">5</tspan></text>
<line x1="429.74" y1="503.30" x2="429.74" y2="504.90" stroke="#1a1a1a" stroke-width="0.6" />
<line x1="434.62" y1="503.30" x2="434.62" y2="504.90" stroke="#1a1a1a" stroke-width="0.6" />
<line x1="438.08" y1="503.30" x2="438.08" y2="504.90" stroke="#1a1a1a" stroke-width="0.6" />
<line x1="440.76" y1="503.30" x2="440.76" y2="504.90" stroke="#1a1a1a" stroke-width="0.6" />
<line x1="442.95" y1="503.30" x2="442.95" y2="504.90" stroke="#1a1a1a" stroke-width="0.6" />
<line x1="444.81" y1="503.30" x2="444.81" y2="504.90" stroke="#1a1a1a" stroke-width="0.6" />
<line x1="446.42" y1="503.30" x2="446.42" y2="504.90" stroke="#1a1a1a" stroke-width="0.6" />
<line x1="447.83" y1="503.30" x2="447.83" y2="504.90" stroke="#1a1a1a" stroke-width="0.6" />
<line x1="456.96" y1="503.30" x2="456.96" y2="504.90" stroke="#1a1a1a" stroke-width="0.6" />
<line x1="461.55" y1="503.30" x2="461.55" y2="504.90" stroke="#1a1a1a" stroke-width="0.6" />
<line x1="464.81" y1="503.30" x2="464.81" y2="504.90" stroke="#1a1a1a" stroke-width="0.6" />
<line x1="467.34" y1="503.30" x2="467.34" y2="504.90" stroke="#1a1a1a" stroke-width="0.6" />
<line x1="469.41" y1="503.30" x2="469.41" y2="504.90" stroke="#1a1a1a" stroke-width="0.6" />
<line x1="471.16" y1="503.30" x2="471.16" y2="504.90" stroke="#1a1a1a" stroke-width="0.6" />
<line x1="472.67" y1="503.30" x2="472.67" y2="504.90" stroke="#1a1a1a" stroke-width="0.6" />
<line x1="474.01" y1="503.30" x2="474.01" y2="504.90" stroke="#1a1a1a" stroke-width="0.6" />
<line x1="483.06" y1="503.30" x2="483.06" y2="504.90" stroke="#1a1a1a" stroke-width="0.6" />
<line x1="487.65" y1="503.30" x2="487.65" y2="504.90" stroke="#1a1a1a" stroke-width="0.6" />
<line x1="490.91" y1="503.30" x2="490.91" y2="504.90" stroke="#1a1a1a" stroke-width="0.6" />
<line x1="493.44" y1="503.30" x2="493.44" y2="504.90" stroke="#1a1a1a" stroke-width="0.6" />
<line x1="495.51" y1="503.30" x2="495.51" y2="504.90" stroke="#1a1a1a" stroke-width="0.6" />
<line x1="497.26" y1="503.30" x2="497.26" y2="504.90" stroke="#1a1a1a" stroke-width="0.6" />
<line x1="498.77" y1="503.30" x2="498.77" y2="504.90" stroke="#1a1a1a" stroke-width="0.6" />
<line x1="500.11" y1="503.30" x2="500.11" y2="504.90" stroke="#1a1a1a" stroke-width="0.6" />
<line x1="406.90" y1="503.30" x2="406.90" y2="504.90" stroke="#1a1a1a" stroke-width="0.6" />
<line x1="408.40" y1="503.30" x2="408.40" y2="504.90" stroke="#1a1a1a" stroke-width="0.6" />
<line x1="411.40" y1="503.30" x2="411.40" y2="504.90" stroke="#1a1a1a" stroke-width="0.6" />
<line x1="412.90" y1="503.30" x2="412.90" y2="504.90" stroke="#1a1a1a" stroke-width="0.6" />
<line x1="414.90" y1="503.30" x2="414.90" y2="504.90" stroke="#1a1a1a" stroke-width="0.6" />
<line x1="417.65" y1="503.30" x2="417.65" y2="504.90" stroke="#1a1a1a" stroke-width="0.6" />
<text x="453.35" y="397.50" font-size="10" text-anchor="middle" fill="#222" font-weight="normal" >Pt 2 (12 M)</text>
<text x="32.70" y="453.50" font-size="10.6" text-anchor="middle" fill="#222" font-weight="bold" transform="rotate(-90 32.70 453.50)" textLength="18.6" lengthAdjust="spacingAndGlyphs" >Count</text>
<text x="200.90" y="453.60" font-size="10.6" text-anchor="middle" fill="#222" font-weight="bold" transform="rotate(-90 200.90 453.60)" textLength="18.6" lengthAdjust="spacingAndGlyphs" >Count</text>
<text x="369.20" y="453.60" font-size="10.6" text-anchor="middle" fill="#222" font-weight="bold" transform="rotate(-90 369.20 453.60)" textLength="18.6" lengthAdjust="spacingAndGlyphs" >Count</text>
</svg></body></html>
